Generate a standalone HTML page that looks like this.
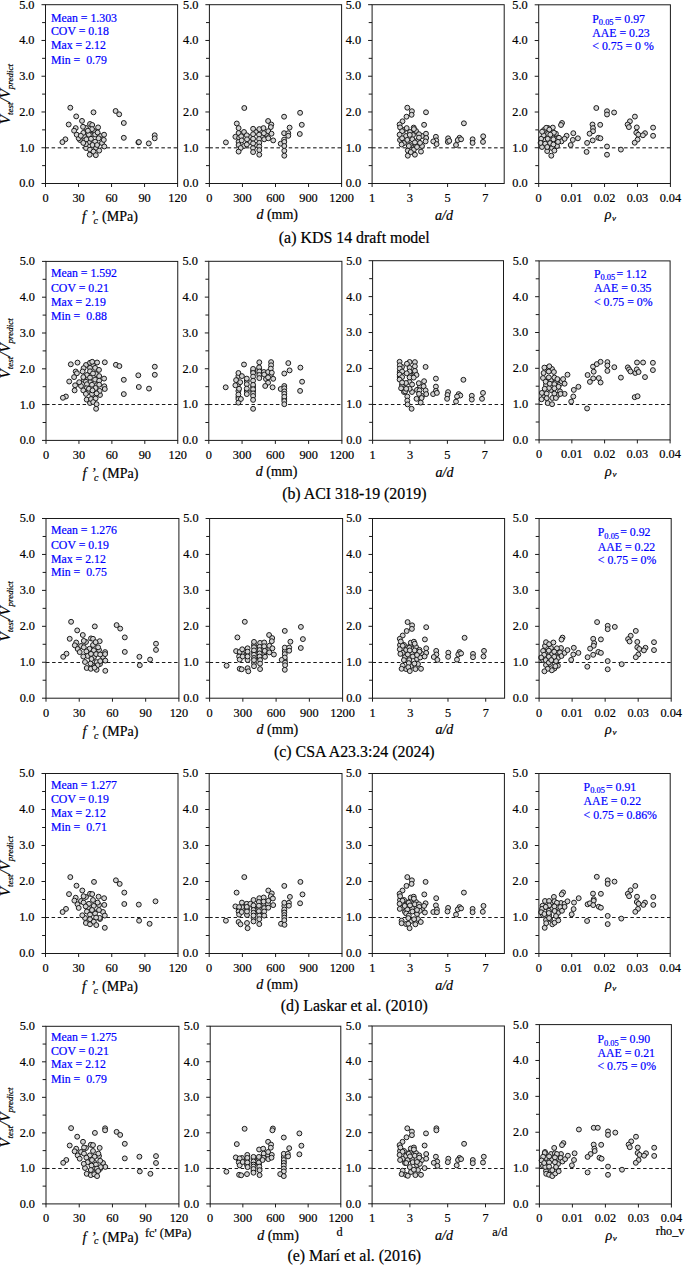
<!DOCTYPE html><html><head><meta charset="utf-8"><style>html,body{margin:0;padding:0;background:#fff;}svg{display:block;}text{font-family:"Liberation Serif",serif;stroke:currentColor;stroke-width:0.2px;}</style></head><body>
<svg width="685" height="1265" viewBox="0 0 685 1265">
<rect width="685" height="1265" fill="#fff"/>
<line x1="45.5" y1="147.74" x2="177.6" y2="147.74" stroke="#5a5a5a" stroke-width="1.4" stroke-dasharray="3.5,2.6"/>
<g fill="#d4d4d4" stroke="#1a1a1a" stroke-width="1.0"><circle cx="86.0" cy="128.0" r="2.45"/><circle cx="94.0" cy="131.0" r="2.45"/><circle cx="100.0" cy="136.0" r="2.45"/><circle cx="89.0" cy="142.0" r="2.45"/><circle cx="96.0" cy="148.0" r="2.45"/><circle cx="86.0" cy="148.0" r="2.45"/><circle cx="80.0" cy="140.0" r="2.45"/><circle cx="102.0" cy="143.0" r="2.45"/><circle cx="91.0" cy="135.0" r="2.45"/><circle cx="84.0" cy="136.0" r="2.45"/><circle cx="70.3" cy="107.7" r="2.45"/><circle cx="93.5" cy="112.3" r="2.45"/><circle cx="76.2" cy="116.4" r="2.45"/><circle cx="82.0" cy="120.9" r="2.45"/><circle cx="68.7" cy="124.5" r="2.45"/><circle cx="90.0" cy="124.0" r="2.45"/><circle cx="92.2" cy="125.0" r="2.45"/><circle cx="83.0" cy="126.8" r="2.45"/><circle cx="98.1" cy="127.4" r="2.45"/><circle cx="75.7" cy="128.1" r="2.45"/><circle cx="74.1" cy="130.7" r="2.45"/><circle cx="92.0" cy="129.1" r="2.45"/><circle cx="83.3" cy="132.9" r="2.45"/><circle cx="88.9" cy="134.7" r="2.45"/><circle cx="95.1" cy="134.5" r="2.45"/><circle cx="97.6" cy="132.5" r="2.45"/><circle cx="104.1" cy="134.7" r="2.45"/><circle cx="78.7" cy="138.3" r="2.45"/><circle cx="76.7" cy="134.7" r="2.45"/><circle cx="86.4" cy="139.3" r="2.45"/><circle cx="91.0" cy="138.8" r="2.45"/><circle cx="98.6" cy="138.3" r="2.45"/><circle cx="103.8" cy="139.9" r="2.45"/><circle cx="95.1" cy="141.7" r="2.45"/><circle cx="85.9" cy="144.1" r="2.45"/><circle cx="92.5" cy="145.0" r="2.45"/><circle cx="83.3" cy="142.9" r="2.45"/><circle cx="97.1" cy="145.0" r="2.45"/><circle cx="104.3" cy="146.5" r="2.45"/><circle cx="65.4" cy="139.3" r="2.45"/><circle cx="62.4" cy="142.1" r="2.45"/><circle cx="90.0" cy="149.6" r="2.45"/><circle cx="93.5" cy="151.6" r="2.45"/><circle cx="99.2" cy="150.6" r="2.45"/><circle cx="89.7" cy="154.7" r="2.45"/><circle cx="95.8" cy="155.2" r="2.45"/><circle cx="80.8" cy="135.8" r="2.45"/><circle cx="87.9" cy="130.7" r="2.45"/><circle cx="115.6" cy="111.0" r="2.45"/><circle cx="119.2" cy="114.3" r="2.45"/><circle cx="123.8" cy="123.0" r="2.45"/><circle cx="123.8" cy="137.8" r="2.45"/><circle cx="138.4" cy="142.4" r="2.45"/><circle cx="138.9" cy="142.1" r="2.45"/><circle cx="148.8" cy="143.4" r="2.45"/><circle cx="154.7" cy="135.3" r="2.45"/><circle cx="154.7" cy="138.3" r="2.45"/></g>
<rect x="45.5" y="4.7" width="132.10" height="178.80" fill="none" stroke="#1a1a1a" stroke-width="1"/>
<path d="M41.50 183.50H45.5M42.10 165.62H45.5M41.50 147.74H45.5M42.10 129.86H45.5M41.50 111.98H45.5M42.10 94.10H45.5M41.50 76.22H45.5M42.10 58.34H45.5M41.50 40.46H45.5M42.10 22.58H45.5M41.50 4.70H45.5M45.50 183.5V187.00M78.53 183.5V187.00M111.55 183.5V187.00M144.57 183.5V187.00M177.60 183.5V187.00" stroke="#1a1a1a" stroke-width="1" fill="none"/>
<text x="34.50" y="187.40" font-size="12.3" text-anchor="end">0.0</text>
<text x="34.50" y="151.64" font-size="12.3" text-anchor="end">1.0</text>
<text x="34.50" y="115.88" font-size="12.3" text-anchor="end">2.0</text>
<text x="34.50" y="80.12" font-size="12.3" text-anchor="end">3.0</text>
<text x="34.50" y="44.36" font-size="12.3" text-anchor="end">4.0</text>
<text x="34.50" y="8.60" font-size="12.3" text-anchor="end">5.0</text>
<text x="45.50" y="201.90" font-size="12.3" text-anchor="middle">0</text>
<text x="78.53" y="201.90" font-size="12.3" text-anchor="middle">30</text>
<text x="111.55" y="201.90" font-size="12.3" text-anchor="middle">60</text>
<text x="144.57" y="201.90" font-size="12.3" text-anchor="middle">90</text>
<text x="177.60" y="201.90" font-size="12.3" text-anchor="middle">120</text>
<line x1="209.4" y1="147.74" x2="341.6" y2="147.74" stroke="#5a5a5a" stroke-width="1.4" stroke-dasharray="3.5,2.6"/>
<g fill="#d4d4d4" stroke="#1a1a1a" stroke-width="1.0"><circle cx="244.0" cy="132.0" r="2.45"/><circle cx="250.0" cy="137.0" r="2.45"/><circle cx="256.0" cy="132.0" r="2.45"/><circle cx="262.0" cy="136.0" r="2.45"/><circle cx="250.0" cy="142.0" r="2.45"/><circle cx="244.0" cy="146.0" r="2.45"/><circle cx="256.0" cy="145.0" r="2.45"/><circle cx="266.0" cy="134.0" r="2.45"/><circle cx="253.0" cy="148.0" r="2.45"/><circle cx="238.6" cy="133.0" r="2.45"/><circle cx="244.3" cy="108.0" r="2.45"/><circle cx="236.8" cy="123.5" r="2.45"/><circle cx="238.6" cy="128.1" r="2.45"/><circle cx="225.9" cy="142.4" r="2.45"/><circle cx="235.4" cy="136.8" r="2.45"/><circle cx="239.1" cy="137.8" r="2.45"/><circle cx="241.2" cy="136.3" r="2.45"/><circle cx="238.6" cy="141.9" r="2.45"/><circle cx="238.6" cy="145.0" r="2.45"/><circle cx="240.7" cy="148.0" r="2.45"/><circle cx="238.6" cy="151.6" r="2.45"/><circle cx="246.8" cy="135.3" r="2.45"/><circle cx="247.0" cy="139.3" r="2.45"/><circle cx="246.8" cy="144.5" r="2.45"/><circle cx="253.1" cy="128.8" r="2.45"/><circle cx="253.1" cy="134.2" r="2.45"/><circle cx="253.1" cy="138.8" r="2.45"/><circle cx="253.1" cy="143.4" r="2.45"/><circle cx="253.1" cy="152.1" r="2.45"/><circle cx="259.3" cy="129.1" r="2.45"/><circle cx="259.1" cy="134.7" r="2.45"/><circle cx="259.1" cy="139.0" r="2.45"/><circle cx="259.3" cy="142.9" r="2.45"/><circle cx="259.3" cy="146.5" r="2.45"/><circle cx="259.3" cy="150.1" r="2.45"/><circle cx="259.3" cy="154.7" r="2.45"/><circle cx="263.5" cy="128.1" r="2.45"/><circle cx="263.9" cy="133.2" r="2.45"/><circle cx="264.2" cy="139.3" r="2.45"/><circle cx="268.1" cy="121.0" r="2.45"/><circle cx="271.3" cy="124.5" r="2.45"/><circle cx="270.8" cy="127.1" r="2.45"/><circle cx="268.3" cy="131.2" r="2.45"/><circle cx="271.5" cy="133.7" r="2.45"/><circle cx="268.3" cy="138.3" r="2.45"/><circle cx="273.2" cy="140.4" r="2.45"/><circle cx="241.7" cy="140.4" r="2.45"/><circle cx="284.1" cy="116.7" r="2.45"/><circle cx="300.1" cy="112.8" r="2.45"/><circle cx="289.6" cy="127.6" r="2.45"/><circle cx="301.8" cy="124.8" r="2.45"/><circle cx="284.1" cy="133.2" r="2.45"/><circle cx="288.3" cy="133.2" r="2.45"/><circle cx="288.3" cy="135.8" r="2.45"/><circle cx="299.8" cy="134.0" r="2.45"/><circle cx="284.1" cy="139.6" r="2.45"/><circle cx="280.7" cy="143.7" r="2.45"/><circle cx="284.3" cy="141.9" r="2.45"/><circle cx="284.3" cy="146.0" r="2.45"/><circle cx="284.3" cy="150.8" r="2.45"/><circle cx="284.3" cy="155.7" r="2.45"/></g>
<rect x="209.4" y="4.7" width="132.20" height="178.80" fill="none" stroke="#1a1a1a" stroke-width="1"/>
<path d="M205.40 183.50H209.4M206.00 165.62H209.4M205.40 147.74H209.4M206.00 129.86H209.4M205.40 111.98H209.4M206.00 94.10H209.4M205.40 76.22H209.4M206.00 58.34H209.4M205.40 40.46H209.4M206.00 22.58H209.4M205.40 4.70H209.4M209.40 183.5V187.00M242.45 183.5V187.00M275.50 183.5V187.00M308.55 183.5V187.00M341.60 183.5V187.00" stroke="#1a1a1a" stroke-width="1" fill="none"/>
<text x="198.40" y="187.40" font-size="12.3" text-anchor="end">0.0</text>
<text x="198.40" y="151.64" font-size="12.3" text-anchor="end">1.0</text>
<text x="198.40" y="115.88" font-size="12.3" text-anchor="end">2.0</text>
<text x="198.40" y="80.12" font-size="12.3" text-anchor="end">3.0</text>
<text x="198.40" y="44.36" font-size="12.3" text-anchor="end">4.0</text>
<text x="198.40" y="8.60" font-size="12.3" text-anchor="end">5.0</text>
<text x="209.40" y="201.90" font-size="12.3" text-anchor="middle">0</text>
<text x="242.45" y="201.90" font-size="12.3" text-anchor="middle">300</text>
<text x="275.50" y="201.90" font-size="12.3" text-anchor="middle">600</text>
<text x="308.55" y="201.90" font-size="12.3" text-anchor="middle">900</text>
<text x="341.60" y="201.90" font-size="12.3" text-anchor="middle">1200</text>
<line x1="372.1" y1="147.74" x2="504.2" y2="147.74" stroke="#5a5a5a" stroke-width="1.4" stroke-dasharray="3.5,2.6"/>
<g fill="#d4d4d4" stroke="#1a1a1a" stroke-width="1.0"><circle cx="404.0" cy="130.0" r="2.45"/><circle cx="406.0" cy="136.0" r="2.45"/><circle cx="410.0" cy="132.0" r="2.45"/><circle cx="416.0" cy="131.0" r="2.45"/><circle cx="418.0" cy="140.0" r="2.45"/><circle cx="422.0" cy="136.0" r="2.45"/><circle cx="404.0" cy="143.0" r="2.45"/><circle cx="410.0" cy="145.0" r="2.45"/><circle cx="416.0" cy="146.0" r="2.45"/><circle cx="422.0" cy="146.0" r="2.45"/><circle cx="413.0" cy="135.0" r="2.45"/><circle cx="400.0" cy="140.0" r="2.45"/><circle cx="407.3" cy="107.7" r="2.45"/><circle cx="411.9" cy="111.2" r="2.45"/><circle cx="411.6" cy="114.8" r="2.45"/><circle cx="406.5" cy="116.7" r="2.45"/><circle cx="402.5" cy="121.3" r="2.45"/><circle cx="399.6" cy="124.5" r="2.45"/><circle cx="400.1" cy="127.4" r="2.45"/><circle cx="402.1" cy="131.2" r="2.45"/><circle cx="399.6" cy="134.7" r="2.45"/><circle cx="402.1" cy="138.3" r="2.45"/><circle cx="401.6" cy="144.5" r="2.45"/><circle cx="406.7" cy="128.1" r="2.45"/><circle cx="413.7" cy="127.6" r="2.45"/><circle cx="413.9" cy="129.1" r="2.45"/><circle cx="409.8" cy="134.9" r="2.45"/><circle cx="407.3" cy="139.9" r="2.45"/><circle cx="412.4" cy="139.3" r="2.45"/><circle cx="419.0" cy="134.2" r="2.45"/><circle cx="419.0" cy="137.6" r="2.45"/><circle cx="426.0" cy="133.7" r="2.45"/><circle cx="426.2" cy="138.0" r="2.45"/><circle cx="425.6" cy="141.4" r="2.45"/><circle cx="420.0" cy="142.9" r="2.45"/><circle cx="414.9" cy="142.4" r="2.45"/><circle cx="408.8" cy="146.0" r="2.45"/><circle cx="413.9" cy="149.6" r="2.45"/><circle cx="407.8" cy="150.6" r="2.45"/><circle cx="421.0" cy="151.6" r="2.45"/><circle cx="414.9" cy="154.7" r="2.45"/><circle cx="407.8" cy="155.7" r="2.45"/><circle cx="426.0" cy="112.3" r="2.45"/><circle cx="424.1" cy="124.8" r="2.45"/><circle cx="435.9" cy="136.8" r="2.45"/><circle cx="436.2" cy="140.4" r="2.45"/><circle cx="433.3" cy="141.4" r="2.45"/><circle cx="436.6" cy="144.1" r="2.45"/><circle cx="417.0" cy="147.0" r="2.45"/><circle cx="410.8" cy="152.1" r="2.45"/><circle cx="463.9" cy="123.3" r="2.45"/><circle cx="448.1" cy="138.3" r="2.45"/><circle cx="447.8" cy="141.9" r="2.45"/><circle cx="459.5" cy="137.8" r="2.45"/><circle cx="457.7" cy="140.1" r="2.45"/><circle cx="461.1" cy="139.3" r="2.45"/><circle cx="456.0" cy="145.0" r="2.45"/><circle cx="472.6" cy="139.3" r="2.45"/><circle cx="472.6" cy="142.9" r="2.45"/><circle cx="483.2" cy="136.3" r="2.45"/><circle cx="483.0" cy="141.9" r="2.45"/><circle cx="449.3" cy="140.9" r="2.45"/></g>
<rect x="372.1" y="4.7" width="132.10" height="178.80" fill="none" stroke="#1a1a1a" stroke-width="1"/>
<path d="M368.10 183.50H372.1M368.70 165.62H372.1M368.10 147.74H372.1M368.70 129.86H372.1M368.10 111.98H372.1M368.70 94.10H372.1M368.10 76.22H372.1M368.70 58.34H372.1M368.10 40.46H372.1M368.70 22.58H372.1M368.10 4.70H372.1M372.10 183.5V187.00M409.84 183.5V187.00M447.59 183.5V187.00M485.33 183.5V187.00" stroke="#1a1a1a" stroke-width="1" fill="none"/>
<text x="361.10" y="187.40" font-size="12.3" text-anchor="end">0.0</text>
<text x="361.10" y="151.64" font-size="12.3" text-anchor="end">1.0</text>
<text x="361.10" y="115.88" font-size="12.3" text-anchor="end">2.0</text>
<text x="361.10" y="80.12" font-size="12.3" text-anchor="end">3.0</text>
<text x="361.10" y="44.36" font-size="12.3" text-anchor="end">4.0</text>
<text x="361.10" y="8.60" font-size="12.3" text-anchor="end">5.0</text>
<text x="372.10" y="201.90" font-size="12.3" text-anchor="middle">1</text>
<text x="409.84" y="201.90" font-size="12.3" text-anchor="middle">3</text>
<text x="447.59" y="201.90" font-size="12.3" text-anchor="middle">5</text>
<text x="485.33" y="201.90" font-size="12.3" text-anchor="middle">7</text>
<line x1="538.7" y1="147.76" x2="670.4" y2="147.76" stroke="#5a5a5a" stroke-width="1.4" stroke-dasharray="3.5,2.6"/>
<g fill="#d4d4d4" stroke="#1a1a1a" stroke-width="1.0"><circle cx="544.0" cy="130.0" r="2.45"/><circle cx="548.0" cy="134.0" r="2.45"/><circle cx="552.0" cy="136.0" r="2.45"/><circle cx="556.0" cy="139.0" r="2.45"/><circle cx="545.0" cy="140.0" r="2.45"/><circle cx="550.0" cy="143.0" r="2.45"/><circle cx="557.0" cy="146.0" r="2.45"/><circle cx="542.0" cy="147.0" r="2.45"/><circle cx="552.0" cy="148.0" r="2.45"/><circle cx="548.0" cy="128.0" r="2.45"/><circle cx="546.2" cy="127.8" r="2.45"/><circle cx="552.8" cy="127.6" r="2.45"/><circle cx="549.3" cy="129.6" r="2.45"/><circle cx="543.6" cy="135.3" r="2.45"/><circle cx="547.7" cy="138.8" r="2.45"/><circle cx="553.4" cy="139.3" r="2.45"/><circle cx="555.9" cy="133.7" r="2.45"/><circle cx="553.9" cy="132.7" r="2.45"/><circle cx="541.1" cy="138.8" r="2.45"/><circle cx="540.6" cy="142.9" r="2.45"/><circle cx="545.2" cy="143.7" r="2.45"/><circle cx="553.4" cy="144.5" r="2.45"/><circle cx="559.0" cy="137.8" r="2.45"/><circle cx="561.5" cy="141.4" r="2.45"/><circle cx="558.0" cy="141.9" r="2.45"/><circle cx="547.2" cy="151.1" r="2.45"/><circle cx="554.4" cy="150.6" r="2.45"/><circle cx="551.3" cy="155.7" r="2.45"/><circle cx="547.2" cy="147.0" r="2.45"/><circle cx="542.1" cy="131.7" r="2.45"/><circle cx="550.3" cy="134.7" r="2.45"/><circle cx="562.0" cy="123.0" r="2.45"/><circle cx="561.0" cy="125.0" r="2.45"/><circle cx="566.6" cy="135.8" r="2.45"/><circle cx="564.6" cy="138.8" r="2.45"/><circle cx="573.3" cy="133.2" r="2.45"/><circle cx="572.8" cy="139.9" r="2.45"/><circle cx="577.9" cy="138.3" r="2.45"/><circle cx="570.7" cy="145.0" r="2.45"/><circle cx="596.3" cy="108.0" r="2.45"/><circle cx="592.5" cy="124.5" r="2.45"/><circle cx="600.2" cy="124.8" r="2.45"/><circle cx="593.0" cy="128.1" r="2.45"/><circle cx="593.0" cy="131.2" r="2.45"/><circle cx="589.6" cy="133.7" r="2.45"/><circle cx="592.7" cy="140.4" r="2.45"/><circle cx="598.3" cy="137.8" r="2.45"/><circle cx="600.4" cy="138.3" r="2.45"/><circle cx="587.1" cy="142.9" r="2.45"/><circle cx="586.6" cy="151.9" r="2.45"/><circle cx="607.0" cy="111.2" r="2.45"/><circle cx="607.0" cy="114.5" r="2.45"/><circle cx="614.1" cy="112.5" r="2.45"/><circle cx="607.0" cy="146.5" r="2.45"/><circle cx="607.0" cy="154.7" r="2.45"/><circle cx="620.9" cy="149.6" r="2.45"/><circle cx="634.9" cy="116.6" r="2.45"/><circle cx="629.9" cy="121.3" r="2.45"/><circle cx="627.6" cy="124.5" r="2.45"/><circle cx="628.9" cy="127.1" r="2.45"/><circle cx="636.8" cy="127.4" r="2.45"/><circle cx="636.3" cy="132.7" r="2.45"/><circle cx="638.3" cy="134.7" r="2.45"/><circle cx="645.0" cy="133.2" r="2.45"/><circle cx="642.9" cy="135.3" r="2.45"/><circle cx="637.6" cy="139.6" r="2.45"/><circle cx="634.7" cy="142.7" r="2.45"/><circle cx="653.1" cy="127.6" r="2.45"/><circle cx="653.1" cy="135.8" r="2.45"/></g>
<rect x="538.7" y="4.8" width="131.70" height="178.70" fill="none" stroke="#1a1a1a" stroke-width="1"/>
<path d="M534.70 183.50H538.7M535.30 165.63H538.7M534.70 147.76H538.7M535.30 129.89H538.7M534.70 112.02H538.7M535.30 94.15H538.7M534.70 76.28H538.7M535.30 58.41H538.7M534.70 40.54H538.7M535.30 22.67H538.7M534.70 4.80H538.7M538.70 183.5V187.00M571.62 183.5V187.00M604.55 183.5V187.00M637.48 183.5V187.00M670.40 183.5V187.00" stroke="#1a1a1a" stroke-width="1" fill="none"/>
<text x="527.70" y="187.40" font-size="12.3" text-anchor="end">0.0</text>
<text x="527.70" y="151.66" font-size="12.3" text-anchor="end">1.0</text>
<text x="527.70" y="115.92" font-size="12.3" text-anchor="end">2.0</text>
<text x="527.70" y="80.18" font-size="12.3" text-anchor="end">3.0</text>
<text x="527.70" y="44.44" font-size="12.3" text-anchor="end">4.0</text>
<text x="527.70" y="8.70" font-size="12.3" text-anchor="end">5.0</text>
<text x="538.70" y="201.90" font-size="12.3" text-anchor="middle">0</text>
<text x="571.62" y="201.90" font-size="12.3" text-anchor="middle">0.01</text>
<text x="604.55" y="201.90" font-size="12.3" text-anchor="middle">0.02</text>
<text x="637.48" y="201.90" font-size="12.3" text-anchor="middle">0.03</text>
<text x="670.40" y="201.90" font-size="12.3" text-anchor="middle">0.04</text>
<text x="82.10" y="221.30" font-size="14" ><tspan font-style="italic">f</tspan><tspan font-style="italic" dx="3.3">’</tspan><tspan font-style="italic" font-size="10" dx="-1.8" dy="2.7">c</tspan><tspan dy="-2.7" dx="0.7"> (MPa)</tspan></text>
<text x="256.40" y="219.30" font-size="14"><tspan font-style="italic">d</tspan> (mm)</text>
<text x="435.00" y="219.70" font-size="14" font-style="italic">a/d</text>
<text x="604.70" y="219.10" font-size="14" font-style="italic">ρ<tspan font-size="9" dy="1.6" dx="0.6">v</tspan></text>
<text x="354.3" y="243.40" font-size="15.9" text-anchor="middle">(a) KDS 14 draft model</text>
<text transform="translate(10,94.1) rotate(-90)" font-size="15" text-anchor="middle" font-style="italic">V<tspan font-size="9" dy="2.6">test</tspan><tspan dy="-2.6">/V</tspan><tspan font-size="9" dy="2.6">predict</tspan></text>
<g fill="#0000ff" style="color:#0000ff" font-size="11.8">
<text x="51.0" y="21.60">Mean = 1.303</text>
<text x="51.0" y="35.30">COV = 0.18</text>
<text x="51.0" y="49.00">Max = 2.12</text>
<text x="51.0" y="63.60" xml:space="preserve">Min =  0.79</text>
<text x="592.30" y="22.50">P<tspan font-size="8.4" dy="2.6">0.05</tspan><tspan dy="-2.6" dx="1.2">= 0.97</tspan></text>
<text x="592.30" y="36.50">AAE = 0.23</text>
<text x="592.30" y="50.00">&lt; 0.75 = 0 %</text>
</g>
<line x1="46.0" y1="404.50" x2="177.75" y2="404.50" stroke="#1a1a1a" stroke-width="1.0" stroke-dasharray="3.5,2.6"/>
<g fill="#d4d4d4" stroke="#1a1a1a" stroke-width="1.0"><circle cx="86.0" cy="365.0" r="2.45"/><circle cx="93.0" cy="365.0" r="2.45"/><circle cx="87.0" cy="375.0" r="2.45"/><circle cx="96.0" cy="374.0" r="2.45"/><circle cx="84.0" cy="380.0" r="2.45"/><circle cx="90.0" cy="382.0" r="2.45"/><circle cx="97.0" cy="385.0" r="2.45"/><circle cx="88.0" cy="392.0" r="2.45"/><circle cx="94.0" cy="396.0" r="2.45"/><circle cx="90.0" cy="403.0" r="2.45"/><circle cx="81.0" cy="386.0" r="2.45"/><circle cx="100.0" cy="395.0" r="2.45"/><circle cx="70.8" cy="364.3" r="2.45"/><circle cx="77.5" cy="362.6" r="2.45"/><circle cx="90.0" cy="362.8" r="2.45"/><circle cx="92.2" cy="361.8" r="2.45"/><circle cx="97.1" cy="362.5" r="2.45"/><circle cx="104.8" cy="362.3" r="2.45"/><circle cx="83.6" cy="368.2" r="2.45"/><circle cx="82.6" cy="371.5" r="2.45"/><circle cx="75.7" cy="371.5" r="2.45"/><circle cx="76.9" cy="373.3" r="2.45"/><circle cx="90.0" cy="367.9" r="2.45"/><circle cx="90.0" cy="371.3" r="2.45"/><circle cx="95.1" cy="367.9" r="2.45"/><circle cx="99.0" cy="369.9" r="2.45"/><circle cx="74.1" cy="377.1" r="2.45"/><circle cx="83.3" cy="377.1" r="2.45"/><circle cx="90.0" cy="377.6" r="2.45"/><circle cx="93.0" cy="373.5" r="2.45"/><circle cx="99.2" cy="376.1" r="2.45"/><circle cx="104.1" cy="378.6" r="2.45"/><circle cx="69.2" cy="381.5" r="2.45"/><circle cx="79.2" cy="382.2" r="2.45"/><circle cx="75.1" cy="385.3" r="2.45"/><circle cx="85.9" cy="381.7" r="2.45"/><circle cx="86.9" cy="384.2" r="2.45"/><circle cx="95.1" cy="379.6" r="2.45"/><circle cx="99.2" cy="380.7" r="2.45"/><circle cx="99.2" cy="384.7" r="2.45"/><circle cx="92.0" cy="384.7" r="2.45"/><circle cx="74.6" cy="390.4" r="2.45"/><circle cx="86.4" cy="388.3" r="2.45"/><circle cx="83.3" cy="390.4" r="2.45"/><circle cx="95.6" cy="388.0" r="2.45"/><circle cx="104.3" cy="386.3" r="2.45"/><circle cx="104.8" cy="389.0" r="2.45"/><circle cx="99.7" cy="390.9" r="2.45"/><circle cx="85.9" cy="393.9" r="2.45"/><circle cx="92.0" cy="393.9" r="2.45"/><circle cx="96.6" cy="393.4" r="2.45"/><circle cx="65.9" cy="396.5" r="2.45"/><circle cx="62.9" cy="397.8" r="2.45"/><circle cx="86.7" cy="399.6" r="2.45"/><circle cx="91.0" cy="399.0" r="2.45"/><circle cx="95.6" cy="398.5" r="2.45"/><circle cx="93.2" cy="402.1" r="2.45"/><circle cx="96.6" cy="404.2" r="2.45"/><circle cx="96.1" cy="408.8" r="2.45"/><circle cx="88.9" cy="388.8" r="2.45"/><circle cx="92.5" cy="390.4" r="2.45"/><circle cx="115.9" cy="364.8" r="2.45"/><circle cx="119.4" cy="366.1" r="2.45"/><circle cx="123.8" cy="379.8" r="2.45"/><circle cx="123.8" cy="394.1" r="2.45"/><circle cx="138.3" cy="375.3" r="2.45"/><circle cx="138.8" cy="387.0" r="2.45"/><circle cx="149.0" cy="388.6" r="2.45"/><circle cx="154.8" cy="366.7" r="2.45"/><circle cx="154.8" cy="374.8" r="2.45"/></g>
<rect x="46.0" y="261.4" width="131.75" height="179.00" fill="none" stroke="#1a1a1a" stroke-width="1"/>
<path d="M42.00 440.40H46.0M42.60 422.50H46.0M42.00 404.60H46.0M42.60 386.70H46.0M42.00 368.80H46.0M42.60 350.90H46.0M42.00 333.00H46.0M42.60 315.10H46.0M42.00 297.20H46.0M42.60 279.30H46.0M42.00 261.40H46.0M46.00 440.4V443.90M78.94 440.4V443.90M111.88 440.4V443.90M144.81 440.4V443.90M177.75 440.4V443.90" stroke="#1a1a1a" stroke-width="1" fill="none"/>
<text x="35.00" y="444.30" font-size="12.3" text-anchor="end">0.0</text>
<text x="35.00" y="408.50" font-size="12.3" text-anchor="end">1.0</text>
<text x="35.00" y="372.70" font-size="12.3" text-anchor="end">2.0</text>
<text x="35.00" y="336.90" font-size="12.3" text-anchor="end">3.0</text>
<text x="35.00" y="301.10" font-size="12.3" text-anchor="end">4.0</text>
<text x="35.00" y="265.30" font-size="12.3" text-anchor="end">5.0</text>
<text x="46.00" y="458.80" font-size="12.3" text-anchor="middle">0</text>
<text x="78.94" y="458.80" font-size="12.3" text-anchor="middle">30</text>
<text x="111.88" y="458.80" font-size="12.3" text-anchor="middle">60</text>
<text x="144.81" y="458.80" font-size="12.3" text-anchor="middle">90</text>
<text x="177.75" y="458.80" font-size="12.3" text-anchor="middle">120</text>
<line x1="208.8" y1="404.50" x2="341.9" y2="404.50" stroke="#1a1a1a" stroke-width="1.0" stroke-dasharray="3.5,2.6"/>
<g fill="#d4d4d4" stroke="#1a1a1a" stroke-width="1.0"><circle cx="238.4" cy="376.0" r="2.45"/><circle cx="238.4" cy="384.0" r="2.45"/><circle cx="238.4" cy="391.0" r="2.45"/><circle cx="238.4" cy="397.0" r="2.45"/><circle cx="246.8" cy="381.0" r="2.45"/><circle cx="246.8" cy="391.0" r="2.45"/><circle cx="253.1" cy="371.0" r="2.45"/><circle cx="253.1" cy="387.0" r="2.45"/><circle cx="253.1" cy="391.0" r="2.45"/><circle cx="259.3" cy="369.0" r="2.45"/><circle cx="259.3" cy="373.0" r="2.45"/><circle cx="284.3" cy="399.0" r="2.45"/><circle cx="284.3" cy="386.0" r="2.45"/><circle cx="270.8" cy="375.0" r="2.45"/><circle cx="266.0" cy="379.0" r="2.45"/><circle cx="244.0" cy="364.5" r="2.45"/><circle cx="225.7" cy="387.3" r="2.45"/><circle cx="238.4" cy="373.0" r="2.45"/><circle cx="241.9" cy="376.1" r="2.45"/><circle cx="236.1" cy="380.1" r="2.45"/><circle cx="240.2" cy="382.2" r="2.45"/><circle cx="235.4" cy="385.3" r="2.45"/><circle cx="239.1" cy="388.8" r="2.45"/><circle cx="238.4" cy="394.5" r="2.45"/><circle cx="238.4" cy="399.0" r="2.45"/><circle cx="238.4" cy="402.6" r="2.45"/><circle cx="240.9" cy="399.0" r="2.45"/><circle cx="246.8" cy="378.6" r="2.45"/><circle cx="246.8" cy="384.2" r="2.45"/><circle cx="246.8" cy="388.6" r="2.45"/><circle cx="246.8" cy="394.1" r="2.45"/><circle cx="253.1" cy="368.9" r="2.45"/><circle cx="253.1" cy="373.0" r="2.45"/><circle cx="253.1" cy="376.6" r="2.45"/><circle cx="253.1" cy="380.7" r="2.45"/><circle cx="253.1" cy="384.9" r="2.45"/><circle cx="253.1" cy="389.3" r="2.45"/><circle cx="253.1" cy="393.4" r="2.45"/><circle cx="253.1" cy="396.0" r="2.45"/><circle cx="253.1" cy="399.9" r="2.45"/><circle cx="253.1" cy="408.8" r="2.45"/><circle cx="259.3" cy="362.3" r="2.45"/><circle cx="259.1" cy="367.4" r="2.45"/><circle cx="259.3" cy="371.5" r="2.45"/><circle cx="259.3" cy="375.0" r="2.45"/><circle cx="259.3" cy="378.1" r="2.45"/><circle cx="263.9" cy="372.0" r="2.45"/><circle cx="264.2" cy="374.5" r="2.45"/><circle cx="268.1" cy="372.0" r="2.45"/><circle cx="271.1" cy="362.1" r="2.45"/><circle cx="271.1" cy="365.3" r="2.45"/><circle cx="270.8" cy="368.6" r="2.45"/><circle cx="271.8" cy="372.7" r="2.45"/><circle cx="268.1" cy="377.4" r="2.45"/><circle cx="273.2" cy="378.8" r="2.45"/><circle cx="268.1" cy="382.7" r="2.45"/><circle cx="265.2" cy="386.0" r="2.45"/><circle cx="272.6" cy="387.3" r="2.45"/><circle cx="288.3" cy="363.1" r="2.45"/><circle cx="289.6" cy="370.4" r="2.45"/><circle cx="284.3" cy="373.5" r="2.45"/><circle cx="300.4" cy="367.6" r="2.45"/><circle cx="302.1" cy="381.7" r="2.45"/><circle cx="300.1" cy="390.9" r="2.45"/><circle cx="280.7" cy="389.0" r="2.45"/><circle cx="284.3" cy="388.3" r="2.45"/><circle cx="284.3" cy="391.4" r="2.45"/><circle cx="284.3" cy="393.9" r="2.45"/><circle cx="284.3" cy="396.8" r="2.45"/><circle cx="284.3" cy="401.1" r="2.45"/><circle cx="284.3" cy="404.2" r="2.45"/></g>
<rect x="208.8" y="261.3" width="133.10" height="179.10" fill="none" stroke="#1a1a1a" stroke-width="1"/>
<path d="M204.80 440.40H208.8M205.40 422.49H208.8M204.80 404.58H208.8M205.40 386.67H208.8M204.80 368.76H208.8M205.40 350.85H208.8M204.80 332.94H208.8M205.40 315.03H208.8M204.80 297.12H208.8M205.40 279.21H208.8M204.80 261.30H208.8M208.80 440.4V443.90M242.07 440.4V443.90M275.35 440.4V443.90M308.62 440.4V443.90M341.90 440.4V443.90" stroke="#1a1a1a" stroke-width="1" fill="none"/>
<text x="197.80" y="444.30" font-size="12.3" text-anchor="end">0.0</text>
<text x="197.80" y="408.48" font-size="12.3" text-anchor="end">1.0</text>
<text x="197.80" y="372.66" font-size="12.3" text-anchor="end">2.0</text>
<text x="197.80" y="336.84" font-size="12.3" text-anchor="end">3.0</text>
<text x="197.80" y="301.02" font-size="12.3" text-anchor="end">4.0</text>
<text x="197.80" y="265.20" font-size="12.3" text-anchor="end">5.0</text>
<text x="208.80" y="458.80" font-size="12.3" text-anchor="middle">0</text>
<text x="242.07" y="458.80" font-size="12.3" text-anchor="middle">300</text>
<text x="275.35" y="458.80" font-size="12.3" text-anchor="middle">600</text>
<text x="308.62" y="458.80" font-size="12.3" text-anchor="middle">900</text>
<text x="341.90" y="458.80" font-size="12.3" text-anchor="middle">1200</text>
<line x1="372.6" y1="404.50" x2="503.5" y2="404.50" stroke="#1a1a1a" stroke-width="1.0" stroke-dasharray="3.5,2.6"/>
<g fill="#d4d4d4" stroke="#1a1a1a" stroke-width="1.0"><circle cx="399.7" cy="372.0" r="2.45"/><circle cx="399.7" cy="377.0" r="2.45"/><circle cx="402.0" cy="367.0" r="2.45"/><circle cx="402.0" cy="385.0" r="2.45"/><circle cx="409.6" cy="362.0" r="2.45"/><circle cx="409.6" cy="375.0" r="2.45"/><circle cx="409.6" cy="382.0" r="2.45"/><circle cx="414.9" cy="373.0" r="2.45"/><circle cx="404.0" cy="392.0" r="2.45"/><circle cx="406.0" cy="383.0" r="2.45"/><circle cx="412.0" cy="392.0" r="2.45"/><circle cx="420.0" cy="386.0" r="2.45"/><circle cx="422.0" cy="396.0" r="2.45"/><circle cx="399.6" cy="361.8" r="2.45"/><circle cx="399.8" cy="365.3" r="2.45"/><circle cx="399.8" cy="368.6" r="2.45"/><circle cx="402.1" cy="371.5" r="2.45"/><circle cx="399.6" cy="374.5" r="2.45"/><circle cx="402.1" cy="377.1" r="2.45"/><circle cx="399.6" cy="379.6" r="2.45"/><circle cx="402.1" cy="382.5" r="2.45"/><circle cx="401.1" cy="388.3" r="2.45"/><circle cx="406.9" cy="363.8" r="2.45"/><circle cx="409.6" cy="367.9" r="2.45"/><circle cx="409.6" cy="371.5" r="2.45"/><circle cx="406.7" cy="373.3" r="2.45"/><circle cx="409.6" cy="377.4" r="2.45"/><circle cx="414.9" cy="362.1" r="2.45"/><circle cx="414.9" cy="366.3" r="2.45"/><circle cx="414.9" cy="370.9" r="2.45"/><circle cx="416.5" cy="375.0" r="2.45"/><circle cx="413.7" cy="377.6" r="2.45"/><circle cx="412.1" cy="384.5" r="2.45"/><circle cx="409.6" cy="388.8" r="2.45"/><circle cx="407.3" cy="396.5" r="2.45"/><circle cx="407.3" cy="400.6" r="2.45"/><circle cx="407.6" cy="404.4" r="2.45"/><circle cx="411.6" cy="408.8" r="2.45"/><circle cx="425.6" cy="366.9" r="2.45"/><circle cx="418.8" cy="383.2" r="2.45"/><circle cx="424.1" cy="381.2" r="2.45"/><circle cx="423.6" cy="386.3" r="2.45"/><circle cx="417.0" cy="389.9" r="2.45"/><circle cx="419.5" cy="390.4" r="2.45"/><circle cx="425.6" cy="390.4" r="2.45"/><circle cx="419.0" cy="393.9" r="2.45"/><circle cx="426.2" cy="394.1" r="2.45"/><circle cx="416.5" cy="398.8" r="2.45"/><circle cx="421.6" cy="398.0" r="2.45"/><circle cx="420.7" cy="402.6" r="2.45"/><circle cx="435.9" cy="378.6" r="2.45"/><circle cx="435.9" cy="386.6" r="2.45"/><circle cx="435.9" cy="390.9" r="2.45"/><circle cx="433.1" cy="394.1" r="2.45"/><circle cx="436.9" cy="392.9" r="2.45"/><circle cx="405.2" cy="391.4" r="2.45"/><circle cx="406.2" cy="388.8" r="2.45"/><circle cx="463.4" cy="379.8" r="2.45"/><circle cx="448.1" cy="392.1" r="2.45"/><circle cx="447.5" cy="395.0" r="2.45"/><circle cx="447.1" cy="398.8" r="2.45"/><circle cx="458.7" cy="394.1" r="2.45"/><circle cx="460.3" cy="395.5" r="2.45"/><circle cx="457.0" cy="396.5" r="2.45"/><circle cx="456.0" cy="401.6" r="2.45"/><circle cx="471.8" cy="395.8" r="2.45"/><circle cx="471.8" cy="399.6" r="2.45"/><circle cx="483.0" cy="392.9" r="2.45"/><circle cx="482.0" cy="398.8" r="2.45"/></g>
<rect x="372.6" y="260.7" width="130.90" height="179.60" fill="none" stroke="#1a1a1a" stroke-width="1"/>
<path d="M368.60 440.30H372.6M369.20 422.34H372.6M368.60 404.38H372.6M369.20 386.42H372.6M368.60 368.46H372.6M369.20 350.50H372.6M368.60 332.54H372.6M369.20 314.58H372.6M368.60 296.62H372.6M369.20 278.66H372.6M368.60 260.70H372.6M372.60 440.3V443.80M410.00 440.3V443.80M447.40 440.3V443.80M484.80 440.3V443.80" stroke="#1a1a1a" stroke-width="1" fill="none"/>
<text x="361.60" y="444.20" font-size="12.3" text-anchor="end">0.0</text>
<text x="361.60" y="408.28" font-size="12.3" text-anchor="end">1.0</text>
<text x="361.60" y="372.36" font-size="12.3" text-anchor="end">2.0</text>
<text x="361.60" y="336.44" font-size="12.3" text-anchor="end">3.0</text>
<text x="361.60" y="300.52" font-size="12.3" text-anchor="end">4.0</text>
<text x="361.60" y="264.60" font-size="12.3" text-anchor="end">5.0</text>
<text x="372.60" y="458.70" font-size="12.3" text-anchor="middle">1</text>
<text x="410.00" y="458.70" font-size="12.3" text-anchor="middle">3</text>
<text x="447.40" y="458.70" font-size="12.3" text-anchor="middle">5</text>
<text x="484.80" y="458.70" font-size="12.3" text-anchor="middle">7</text>
<line x1="539.1" y1="404.50" x2="670.1" y2="404.50" stroke="#1a1a1a" stroke-width="1.0" stroke-dasharray="3.5,2.6"/>
<g fill="#d4d4d4" stroke="#1a1a1a" stroke-width="1.0"><circle cx="543.0" cy="378.0" r="2.45"/><circle cx="546.0" cy="385.0" r="2.45"/><circle cx="551.0" cy="380.0" r="2.45"/><circle cx="556.0" cy="382.0" r="2.45"/><circle cx="551.0" cy="390.0" r="2.45"/><circle cx="558.0" cy="395.0" r="2.45"/><circle cx="544.0" cy="397.0" r="2.45"/><circle cx="549.0" cy="388.0" r="2.45"/><circle cx="560.0" cy="384.0" r="2.45"/><circle cx="547.0" cy="368.0" r="2.45"/><circle cx="552.0" cy="369.0" r="2.45"/><circle cx="544.4" cy="367.6" r="2.45"/><circle cx="549.3" cy="366.3" r="2.45"/><circle cx="548.8" cy="371.5" r="2.45"/><circle cx="553.9" cy="372.0" r="2.45"/><circle cx="543.6" cy="373.0" r="2.45"/><circle cx="548.8" cy="377.4" r="2.45"/><circle cx="554.4" cy="377.6" r="2.45"/><circle cx="545.7" cy="381.7" r="2.45"/><circle cx="549.8" cy="383.7" r="2.45"/><circle cx="554.4" cy="384.2" r="2.45"/><circle cx="558.5" cy="386.8" r="2.45"/><circle cx="561.5" cy="381.2" r="2.45"/><circle cx="563.1" cy="379.1" r="2.45"/><circle cx="564.6" cy="383.7" r="2.45"/><circle cx="544.7" cy="388.8" r="2.45"/><circle cx="554.4" cy="388.3" r="2.45"/><circle cx="560.0" cy="391.4" r="2.45"/><circle cx="564.6" cy="393.9" r="2.45"/><circle cx="541.9" cy="392.9" r="2.45"/><circle cx="546.7" cy="393.7" r="2.45"/><circle cx="554.4" cy="393.7" r="2.45"/><circle cx="541.6" cy="399.3" r="2.45"/><circle cx="546.7" cy="398.2" r="2.45"/><circle cx="552.3" cy="398.0" r="2.45"/><circle cx="555.9" cy="398.0" r="2.45"/><circle cx="547.7" cy="403.1" r="2.45"/><circle cx="552.1" cy="404.2" r="2.45"/><circle cx="560.5" cy="393.9" r="2.45"/><circle cx="557.4" cy="379.1" r="2.45"/><circle cx="567.5" cy="374.7" r="2.45"/><circle cx="573.8" cy="389.9" r="2.45"/><circle cx="578.4" cy="386.8" r="2.45"/><circle cx="573.3" cy="396.5" r="2.45"/><circle cx="571.2" cy="401.6" r="2.45"/><circle cx="587.1" cy="408.5" r="2.45"/><circle cx="587.6" cy="375.0" r="2.45"/><circle cx="593.0" cy="366.6" r="2.45"/><circle cx="596.8" cy="364.1" r="2.45"/><circle cx="600.6" cy="361.8" r="2.45"/><circle cx="593.7" cy="371.7" r="2.45"/><circle cx="593.2" cy="378.4" r="2.45"/><circle cx="598.8" cy="378.1" r="2.45"/><circle cx="589.9" cy="381.9" r="2.45"/><circle cx="600.6" cy="382.5" r="2.45"/><circle cx="607.4" cy="362.1" r="2.45"/><circle cx="607.4" cy="365.5" r="2.45"/><circle cx="607.4" cy="370.9" r="2.45"/><circle cx="614.3" cy="367.2" r="2.45"/><circle cx="620.9" cy="377.6" r="2.45"/><circle cx="627.8" cy="367.4" r="2.45"/><circle cx="629.1" cy="369.4" r="2.45"/><circle cx="630.5" cy="371.5" r="2.45"/><circle cx="635.3" cy="373.0" r="2.45"/><circle cx="636.8" cy="369.4" r="2.45"/><circle cx="638.6" cy="372.0" r="2.45"/><circle cx="637.0" cy="362.5" r="2.45"/><circle cx="643.1" cy="362.5" r="2.45"/><circle cx="645.0" cy="377.1" r="2.45"/><circle cx="652.9" cy="362.8" r="2.45"/><circle cx="652.9" cy="370.1" r="2.45"/><circle cx="634.7" cy="397.2" r="2.45"/><circle cx="637.6" cy="396.2" r="2.45"/></g>
<rect x="539.1" y="260.9" width="131.00" height="179.00" fill="none" stroke="#1a1a1a" stroke-width="1"/>
<path d="M535.10 439.90H539.1M535.70 422.00H539.1M535.10 404.10H539.1M535.70 386.20H539.1M535.10 368.30H539.1M535.70 350.40H539.1M535.10 332.50H539.1M535.70 314.60H539.1M535.10 296.70H539.1M535.70 278.80H539.1M535.10 260.90H539.1M539.10 439.9V443.40M571.85 439.9V443.40M604.60 439.9V443.40M637.35 439.9V443.40M670.10 439.9V443.40" stroke="#1a1a1a" stroke-width="1" fill="none"/>
<text x="528.10" y="443.80" font-size="12.3" text-anchor="end">0.0</text>
<text x="528.10" y="408.00" font-size="12.3" text-anchor="end">1.0</text>
<text x="528.10" y="372.20" font-size="12.3" text-anchor="end">2.0</text>
<text x="528.10" y="336.40" font-size="12.3" text-anchor="end">3.0</text>
<text x="528.10" y="300.60" font-size="12.3" text-anchor="end">4.0</text>
<text x="528.10" y="264.80" font-size="12.3" text-anchor="end">5.0</text>
<text x="539.10" y="458.30" font-size="12.3" text-anchor="middle">0</text>
<text x="571.85" y="458.30" font-size="12.3" text-anchor="middle">0.01</text>
<text x="604.60" y="458.30" font-size="12.3" text-anchor="middle">0.02</text>
<text x="637.35" y="458.30" font-size="12.3" text-anchor="middle">0.03</text>
<text x="670.10" y="458.30" font-size="12.3" text-anchor="middle">0.04</text>
<text x="82.60" y="478.20" font-size="14" ><tspan font-style="italic">f</tspan><tspan font-style="italic" dx="3.3">’</tspan><tspan font-style="italic" font-size="10" dx="-1.8" dy="2.7">c</tspan><tspan dy="-2.7" dx="0.7"> (MPa)</tspan></text>
<text x="255.80" y="476.20" font-size="14"><tspan font-style="italic">d</tspan> (mm)</text>
<text x="435.50" y="476.50" font-size="14" font-style="italic">a/d</text>
<text x="605.10" y="475.50" font-size="14" font-style="italic">ρ<tspan font-size="9" dy="1.6" dx="0.6">v</tspan></text>
<text x="354.3" y="499.00" font-size="15.9" text-anchor="middle">(b) ACI 318-19 (2019)</text>
<text transform="translate(10,348.3) rotate(-90)" font-size="15" text-anchor="middle" font-style="italic">V<tspan font-size="9" dy="2.6">test</tspan><tspan dy="-2.6">/V</tspan><tspan font-size="9" dy="2.6">predict</tspan></text>
<g fill="#0000ff" style="color:#0000ff" font-size="11.8">
<text x="51.0" y="277.40">Mean = 1.592</text>
<text x="51.0" y="291.80">COV = 0.21</text>
<text x="51.0" y="306.10">Max = 2.19</text>
<text x="51.0" y="319.80" xml:space="preserve">Min =  0.88</text>
<text x="594.00" y="277.80">P<tspan font-size="8.4" dy="2.6">0.05</tspan><tspan dy="-2.6" dx="1.2">= 1.12</tspan></text>
<text x="594.00" y="292.10">AAE = 0.35</text>
<text x="594.00" y="306.10">&lt; 0.75 = 0%</text>
</g>
<line x1="46.0" y1="662.50" x2="178.9" y2="662.50" stroke="#1a1a1a" stroke-width="1.0" stroke-dasharray="3.5,2.6"/>
<g fill="#d4d4d4" stroke="#1a1a1a" stroke-width="1.0"><circle cx="86.0" cy="642.0" r="2.45"/><circle cx="93.0" cy="645.0" r="2.45"/><circle cx="99.0" cy="650.0" r="2.45"/><circle cx="88.0" cy="652.0" r="2.45"/><circle cx="94.0" cy="657.0" r="2.45"/><circle cx="100.0" cy="664.0" r="2.45"/><circle cx="85.0" cy="662.0" r="2.45"/><circle cx="92.0" cy="665.0" r="2.45"/><circle cx="81.0" cy="646.0" r="2.45"/><circle cx="103.0" cy="657.0" r="2.45"/><circle cx="71.1" cy="621.8" r="2.45"/><circle cx="94.8" cy="626.4" r="2.45"/><circle cx="77.2" cy="630.4" r="2.45"/><circle cx="82.8" cy="635.0" r="2.45"/><circle cx="69.7" cy="638.8" r="2.45"/><circle cx="91.0" cy="638.4" r="2.45"/><circle cx="93.0" cy="638.8" r="2.45"/><circle cx="83.8" cy="640.9" r="2.45"/><circle cx="99.7" cy="641.2" r="2.45"/><circle cx="76.2" cy="642.5" r="2.45"/><circle cx="74.8" cy="645.3" r="2.45"/><circle cx="95.6" cy="642.2" r="2.45"/><circle cx="83.8" cy="647.3" r="2.45"/><circle cx="98.1" cy="647.3" r="2.45"/><circle cx="89.5" cy="648.8" r="2.45"/><circle cx="77.7" cy="649.0" r="2.45"/><circle cx="79.7" cy="652.1" r="2.45"/><circle cx="86.4" cy="651.4" r="2.45"/><circle cx="93.8" cy="650.4" r="2.45"/><circle cx="96.1" cy="654.1" r="2.45"/><circle cx="100.2" cy="654.5" r="2.45"/><circle cx="105.1" cy="652.1" r="2.45"/><circle cx="105.1" cy="654.1" r="2.45"/><circle cx="87.7" cy="656.0" r="2.45"/><circle cx="83.3" cy="656.5" r="2.45"/><circle cx="91.5" cy="659.0" r="2.45"/><circle cx="96.6" cy="662.1" r="2.45"/><circle cx="100.2" cy="661.1" r="2.45"/><circle cx="105.3" cy="660.6" r="2.45"/><circle cx="90.5" cy="663.6" r="2.45"/><circle cx="97.6" cy="665.2" r="2.45"/><circle cx="86.7" cy="668.0" r="2.45"/><circle cx="90.8" cy="668.8" r="2.45"/><circle cx="96.6" cy="669.8" r="2.45"/><circle cx="105.3" cy="670.8" r="2.45"/><circle cx="66.5" cy="653.7" r="2.45"/><circle cx="63.2" cy="656.8" r="2.45"/><circle cx="94.6" cy="667.7" r="2.45"/><circle cx="91.0" cy="653.9" r="2.45"/><circle cx="116.6" cy="625.1" r="2.45"/><circle cx="120.2" cy="628.6" r="2.45"/><circle cx="124.8" cy="637.4" r="2.45"/><circle cx="124.8" cy="651.9" r="2.45"/><circle cx="139.4" cy="656.8" r="2.45"/><circle cx="139.8" cy="665.2" r="2.45"/><circle cx="150.1" cy="659.6" r="2.45"/><circle cx="156.0" cy="643.7" r="2.45"/><circle cx="156.0" cy="649.9" r="2.45"/></g>
<rect x="46.0" y="518.5" width="132.90" height="179.70" fill="none" stroke="#1a1a1a" stroke-width="1"/>
<path d="M42.00 698.20H46.0M42.60 680.23H46.0M42.00 662.26H46.0M42.60 644.29H46.0M42.00 626.32H46.0M42.60 608.35H46.0M42.00 590.38H46.0M42.60 572.41H46.0M42.00 554.44H46.0M42.60 536.47H46.0M42.00 518.50H46.0M46.00 698.2V701.70M79.22 698.2V701.70M112.45 698.2V701.70M145.68 698.2V701.70M178.90 698.2V701.70" stroke="#1a1a1a" stroke-width="1" fill="none"/>
<text x="35.00" y="702.10" font-size="12.3" text-anchor="end">0.0</text>
<text x="35.00" y="666.16" font-size="12.3" text-anchor="end">1.0</text>
<text x="35.00" y="630.22" font-size="12.3" text-anchor="end">2.0</text>
<text x="35.00" y="594.28" font-size="12.3" text-anchor="end">3.0</text>
<text x="35.00" y="558.34" font-size="12.3" text-anchor="end">4.0</text>
<text x="35.00" y="522.40" font-size="12.3" text-anchor="end">5.0</text>
<text x="46.00" y="716.60" font-size="12.3" text-anchor="middle">0</text>
<text x="79.22" y="716.60" font-size="12.3" text-anchor="middle">30</text>
<text x="112.45" y="716.60" font-size="12.3" text-anchor="middle">60</text>
<text x="145.68" y="716.60" font-size="12.3" text-anchor="middle">90</text>
<text x="178.90" y="716.60" font-size="12.3" text-anchor="middle">120</text>
<line x1="209.6" y1="662.50" x2="342.6" y2="662.50" stroke="#1a1a1a" stroke-width="1.0" stroke-dasharray="3.5,2.6"/>
<g fill="#d4d4d4" stroke="#1a1a1a" stroke-width="1.0"><circle cx="239.7" cy="654.0" r="2.45"/><circle cx="242.0" cy="653.0" r="2.45"/><circle cx="247.6" cy="654.0" r="2.45"/><circle cx="247.6" cy="660.0" r="2.45"/><circle cx="254.0" cy="645.0" r="2.45"/><circle cx="254.0" cy="652.0" r="2.45"/><circle cx="254.0" cy="663.0" r="2.45"/><circle cx="259.6" cy="648.0" r="2.45"/><circle cx="259.6" cy="658.0" r="2.45"/><circle cx="264.2" cy="654.0" r="2.45"/><circle cx="269.3" cy="649.0" r="2.45"/><circle cx="284.8" cy="651.0" r="2.45"/><circle cx="284.8" cy="660.0" r="2.45"/><circle cx="244.8" cy="621.8" r="2.45"/><circle cx="237.4" cy="637.4" r="2.45"/><circle cx="226.6" cy="665.7" r="2.45"/><circle cx="236.1" cy="651.1" r="2.45"/><circle cx="239.7" cy="651.9" r="2.45"/><circle cx="242.2" cy="649.3" r="2.45"/><circle cx="239.1" cy="656.5" r="2.45"/><circle cx="239.7" cy="659.6" r="2.45"/><circle cx="242.7" cy="656.5" r="2.45"/><circle cx="239.7" cy="668.8" r="2.45"/><circle cx="241.7" cy="669.3" r="2.45"/><circle cx="247.6" cy="648.3" r="2.45"/><circle cx="247.6" cy="651.7" r="2.45"/><circle cx="247.6" cy="656.5" r="2.45"/><circle cx="247.6" cy="668.2" r="2.45"/><circle cx="248.3" cy="671.3" r="2.45"/><circle cx="254.0" cy="641.9" r="2.45"/><circle cx="254.0" cy="647.3" r="2.45"/><circle cx="254.0" cy="650.4" r="2.45"/><circle cx="254.0" cy="654.8" r="2.45"/><circle cx="254.0" cy="658.0" r="2.45"/><circle cx="254.0" cy="660.1" r="2.45"/><circle cx="254.0" cy="666.2" r="2.45"/><circle cx="260.1" cy="642.9" r="2.45"/><circle cx="259.6" cy="646.8" r="2.45"/><circle cx="259.6" cy="650.1" r="2.45"/><circle cx="259.6" cy="653.4" r="2.45"/><circle cx="259.6" cy="656.5" r="2.45"/><circle cx="260.1" cy="660.1" r="2.45"/><circle cx="260.1" cy="663.6" r="2.45"/><circle cx="260.1" cy="669.1" r="2.45"/><circle cx="264.2" cy="642.5" r="2.45"/><circle cx="264.2" cy="646.3" r="2.45"/><circle cx="264.7" cy="650.9" r="2.45"/><circle cx="265.0" cy="656.8" r="2.45"/><circle cx="269.1" cy="635.0" r="2.45"/><circle cx="272.2" cy="638.1" r="2.45"/><circle cx="271.8" cy="641.2" r="2.45"/><circle cx="269.3" cy="645.8" r="2.45"/><circle cx="272.4" cy="648.3" r="2.45"/><circle cx="269.3" cy="652.4" r="2.45"/><circle cx="273.9" cy="654.5" r="2.45"/><circle cx="284.8" cy="630.9" r="2.45"/><circle cx="300.9" cy="626.9" r="2.45"/><circle cx="290.4" cy="641.7" r="2.45"/><circle cx="302.9" cy="639.1" r="2.45"/><circle cx="284.8" cy="647.6" r="2.45"/><circle cx="289.2" cy="647.6" r="2.45"/><circle cx="289.2" cy="650.7" r="2.45"/><circle cx="300.8" cy="648.0" r="2.45"/><circle cx="284.8" cy="654.1" r="2.45"/><circle cx="284.8" cy="657.5" r="2.45"/><circle cx="281.7" cy="659.9" r="2.45"/><circle cx="285.1" cy="662.6" r="2.45"/><circle cx="285.1" cy="665.2" r="2.45"/><circle cx="284.8" cy="669.8" r="2.45"/></g>
<rect x="209.6" y="518.5" width="133.00" height="179.70" fill="none" stroke="#1a1a1a" stroke-width="1"/>
<path d="M205.60 698.20H209.6M206.20 680.23H209.6M205.60 662.26H209.6M206.20 644.29H209.6M205.60 626.32H209.6M206.20 608.35H209.6M205.60 590.38H209.6M206.20 572.41H209.6M205.60 554.44H209.6M206.20 536.47H209.6M205.60 518.50H209.6M209.60 698.2V701.70M242.85 698.2V701.70M276.10 698.2V701.70M309.35 698.2V701.70M342.60 698.2V701.70" stroke="#1a1a1a" stroke-width="1" fill="none"/>
<text x="198.60" y="702.10" font-size="12.3" text-anchor="end">0.0</text>
<text x="198.60" y="666.16" font-size="12.3" text-anchor="end">1.0</text>
<text x="198.60" y="630.22" font-size="12.3" text-anchor="end">2.0</text>
<text x="198.60" y="594.28" font-size="12.3" text-anchor="end">3.0</text>
<text x="198.60" y="558.34" font-size="12.3" text-anchor="end">4.0</text>
<text x="198.60" y="522.40" font-size="12.3" text-anchor="end">5.0</text>
<text x="209.60" y="716.60" font-size="12.3" text-anchor="middle">0</text>
<text x="242.85" y="716.60" font-size="12.3" text-anchor="middle">300</text>
<text x="276.10" y="716.60" font-size="12.3" text-anchor="middle">600</text>
<text x="309.35" y="716.60" font-size="12.3" text-anchor="middle">900</text>
<text x="342.60" y="716.60" font-size="12.3" text-anchor="middle">1200</text>
<line x1="372.5" y1="662.50" x2="504.6" y2="662.50" stroke="#1a1a1a" stroke-width="1.0" stroke-dasharray="3.5,2.6"/>
<g fill="#d4d4d4" stroke="#1a1a1a" stroke-width="1.0"><circle cx="404.0" cy="645.0" r="2.45"/><circle cx="406.0" cy="650.0" r="2.45"/><circle cx="410.0" cy="646.0" r="2.45"/><circle cx="416.0" cy="647.0" r="2.45"/><circle cx="412.0" cy="653.0" r="2.45"/><circle cx="417.0" cy="659.0" r="2.45"/><circle cx="405.0" cy="657.0" r="2.45"/><circle cx="411.0" cy="666.0" r="2.45"/><circle cx="418.0" cy="664.0" r="2.45"/><circle cx="422.0" cy="654.0" r="2.45"/><circle cx="400.0" cy="645.0" r="2.45"/><circle cx="406.0" cy="669.0" r="2.45"/><circle cx="407.6" cy="622.1" r="2.45"/><circle cx="412.1" cy="625.3" r="2.45"/><circle cx="411.9" cy="628.9" r="2.45"/><circle cx="406.7" cy="631.0" r="2.45"/><circle cx="402.7" cy="635.5" r="2.45"/><circle cx="399.8" cy="638.8" r="2.45"/><circle cx="400.8" cy="641.5" r="2.45"/><circle cx="402.7" cy="645.8" r="2.45"/><circle cx="399.8" cy="649.3" r="2.45"/><circle cx="402.7" cy="652.9" r="2.45"/><circle cx="400.4" cy="653.9" r="2.45"/><circle cx="410.8" cy="642.7" r="2.45"/><circle cx="413.9" cy="641.7" r="2.45"/><circle cx="414.7" cy="643.7" r="2.45"/><circle cx="409.3" cy="647.8" r="2.45"/><circle cx="409.8" cy="650.4" r="2.45"/><circle cx="414.7" cy="650.4" r="2.45"/><circle cx="407.8" cy="654.5" r="2.45"/><circle cx="412.9" cy="656.5" r="2.45"/><circle cx="419.5" cy="649.9" r="2.45"/><circle cx="419.5" cy="651.7" r="2.45"/><circle cx="420.2" cy="657.5" r="2.45"/><circle cx="426.2" cy="648.3" r="2.45"/><circle cx="426.2" cy="652.9" r="2.45"/><circle cx="424.6" cy="656.5" r="2.45"/><circle cx="403.9" cy="660.1" r="2.45"/><circle cx="409.3" cy="660.1" r="2.45"/><circle cx="408.8" cy="663.1" r="2.45"/><circle cx="414.4" cy="663.6" r="2.45"/><circle cx="402.7" cy="665.7" r="2.45"/><circle cx="401.6" cy="668.8" r="2.45"/><circle cx="408.3" cy="667.2" r="2.45"/><circle cx="409.8" cy="671.1" r="2.45"/><circle cx="415.4" cy="669.1" r="2.45"/><circle cx="421.0" cy="668.8" r="2.45"/><circle cx="426.2" cy="627.2" r="2.45"/><circle cx="424.9" cy="639.4" r="2.45"/><circle cx="436.2" cy="650.9" r="2.45"/><circle cx="436.4" cy="654.5" r="2.45"/><circle cx="433.8" cy="657.0" r="2.45"/><circle cx="437.4" cy="659.9" r="2.45"/><circle cx="417.0" cy="655.0" r="2.45"/><circle cx="464.6" cy="637.8" r="2.45"/><circle cx="448.3" cy="652.7" r="2.45"/><circle cx="448.1" cy="656.8" r="2.45"/><circle cx="459.5" cy="652.1" r="2.45"/><circle cx="458.3" cy="654.5" r="2.45"/><circle cx="461.1" cy="653.4" r="2.45"/><circle cx="457.0" cy="659.6" r="2.45"/><circle cx="473.0" cy="653.9" r="2.45"/><circle cx="473.0" cy="657.2" r="2.45"/><circle cx="484.0" cy="650.9" r="2.45"/><circle cx="483.5" cy="656.5" r="2.45"/></g>
<rect x="372.5" y="518.5" width="132.10" height="179.70" fill="none" stroke="#1a1a1a" stroke-width="1"/>
<path d="M368.50 698.20H372.5M369.10 680.23H372.5M368.50 662.26H372.5M369.10 644.29H372.5M368.50 626.32H372.5M369.10 608.35H372.5M368.50 590.38H372.5M369.10 572.41H372.5M368.50 554.44H372.5M369.10 536.47H372.5M368.50 518.50H372.5M372.50 698.2V701.70M410.24 698.2V701.70M447.99 698.2V701.70M485.73 698.2V701.70" stroke="#1a1a1a" stroke-width="1" fill="none"/>
<text x="361.50" y="702.10" font-size="12.3" text-anchor="end">0.0</text>
<text x="361.50" y="666.16" font-size="12.3" text-anchor="end">1.0</text>
<text x="361.50" y="630.22" font-size="12.3" text-anchor="end">2.0</text>
<text x="361.50" y="594.28" font-size="12.3" text-anchor="end">3.0</text>
<text x="361.50" y="558.34" font-size="12.3" text-anchor="end">4.0</text>
<text x="361.50" y="522.40" font-size="12.3" text-anchor="end">5.0</text>
<text x="372.50" y="716.60" font-size="12.3" text-anchor="middle">1</text>
<text x="410.24" y="716.60" font-size="12.3" text-anchor="middle">3</text>
<text x="447.99" y="716.60" font-size="12.3" text-anchor="middle">5</text>
<text x="485.73" y="716.60" font-size="12.3" text-anchor="middle">7</text>
<line x1="539.1" y1="662.50" x2="671.2" y2="662.50" stroke="#1a1a1a" stroke-width="1.0" stroke-dasharray="3.5,2.6"/>
<g fill="#d4d4d4" stroke="#1a1a1a" stroke-width="1.0"><circle cx="545.0" cy="646.0" r="2.45"/><circle cx="551.0" cy="648.0" r="2.45"/><circle cx="557.0" cy="652.0" r="2.45"/><circle cx="546.0" cy="652.0" r="2.45"/><circle cx="552.0" cy="654.0" r="2.45"/><circle cx="558.0" cy="658.0" r="2.45"/><circle cx="543.0" cy="660.0" r="2.45"/><circle cx="550.0" cy="664.0" r="2.45"/><circle cx="556.0" cy="661.0" r="2.45"/><circle cx="561.0" cy="648.0" r="2.45"/><circle cx="546.0" cy="665.0" r="2.45"/><circle cx="546.0" cy="642.2" r="2.45"/><circle cx="549.1" cy="644.2" r="2.45"/><circle cx="553.4" cy="642.5" r="2.45"/><circle cx="556.9" cy="648.3" r="2.45"/><circle cx="543.1" cy="650.9" r="2.45"/><circle cx="548.8" cy="650.7" r="2.45"/><circle cx="554.2" cy="651.7" r="2.45"/><circle cx="544.2" cy="654.8" r="2.45"/><circle cx="541.1" cy="657.5" r="2.45"/><circle cx="548.8" cy="656.8" r="2.45"/><circle cx="554.2" cy="656.8" r="2.45"/><circle cx="545.7" cy="660.1" r="2.45"/><circle cx="548.8" cy="662.6" r="2.45"/><circle cx="560.0" cy="652.4" r="2.45"/><circle cx="561.5" cy="656.0" r="2.45"/><circle cx="564.6" cy="652.9" r="2.45"/><circle cx="567.5" cy="650.1" r="2.45"/><circle cx="562.5" cy="637.6" r="2.45"/><circle cx="561.5" cy="639.6" r="2.45"/><circle cx="557.9" cy="665.7" r="2.45"/><circle cx="554.4" cy="668.5" r="2.45"/><circle cx="551.8" cy="670.3" r="2.45"/><circle cx="547.7" cy="668.8" r="2.45"/><circle cx="544.4" cy="671.3" r="2.45"/><circle cx="573.8" cy="647.8" r="2.45"/><circle cx="573.3" cy="654.5" r="2.45"/><circle cx="578.4" cy="652.9" r="2.45"/><circle cx="571.2" cy="659.9" r="2.45"/><circle cx="597.1" cy="622.1" r="2.45"/><circle cx="593.2" cy="638.8" r="2.45"/><circle cx="600.9" cy="639.4" r="2.45"/><circle cx="594.2" cy="643.2" r="2.45"/><circle cx="593.7" cy="645.8" r="2.45"/><circle cx="590.1" cy="648.6" r="2.45"/><circle cx="593.2" cy="654.8" r="2.45"/><circle cx="598.3" cy="651.9" r="2.45"/><circle cx="600.9" cy="652.9" r="2.45"/><circle cx="587.6" cy="657.2" r="2.45"/><circle cx="587.3" cy="666.7" r="2.45"/><circle cx="551.3" cy="660.1" r="2.45"/><circle cx="555.4" cy="666.2" r="2.45"/><circle cx="607.7" cy="625.8" r="2.45"/><circle cx="607.7" cy="629.2" r="2.45"/><circle cx="614.8" cy="626.9" r="2.45"/><circle cx="607.7" cy="661.1" r="2.45"/><circle cx="607.7" cy="669.3" r="2.45"/><circle cx="621.7" cy="664.2" r="2.45"/><circle cx="635.8" cy="630.9" r="2.45"/><circle cx="630.7" cy="635.8" r="2.45"/><circle cx="628.1" cy="639.1" r="2.45"/><circle cx="629.6" cy="641.5" r="2.45"/><circle cx="637.3" cy="641.9" r="2.45"/><circle cx="637.3" cy="647.3" r="2.45"/><circle cx="639.3" cy="649.0" r="2.45"/><circle cx="645.5" cy="647.8" r="2.45"/><circle cx="643.9" cy="650.4" r="2.45"/><circle cx="638.3" cy="654.5" r="2.45"/><circle cx="635.8" cy="657.2" r="2.45"/><circle cx="654.0" cy="642.2" r="2.45"/><circle cx="654.0" cy="650.1" r="2.45"/></g>
<rect x="539.1" y="518.5" width="132.10" height="179.70" fill="none" stroke="#1a1a1a" stroke-width="1"/>
<path d="M535.10 698.20H539.1M535.70 680.23H539.1M535.10 662.26H539.1M535.70 644.29H539.1M535.10 626.32H539.1M535.70 608.35H539.1M535.10 590.38H539.1M535.70 572.41H539.1M535.10 554.44H539.1M535.70 536.47H539.1M535.10 518.50H539.1M539.10 698.2V701.70M572.12 698.2V701.70M605.15 698.2V701.70M638.18 698.2V701.70M671.20 698.2V701.70" stroke="#1a1a1a" stroke-width="1" fill="none"/>
<text x="528.10" y="702.10" font-size="12.3" text-anchor="end">0.0</text>
<text x="528.10" y="666.16" font-size="12.3" text-anchor="end">1.0</text>
<text x="528.10" y="630.22" font-size="12.3" text-anchor="end">2.0</text>
<text x="528.10" y="594.28" font-size="12.3" text-anchor="end">3.0</text>
<text x="528.10" y="558.34" font-size="12.3" text-anchor="end">4.0</text>
<text x="528.10" y="522.40" font-size="12.3" text-anchor="end">5.0</text>
<text x="539.10" y="716.60" font-size="12.3" text-anchor="middle">0</text>
<text x="572.12" y="716.60" font-size="12.3" text-anchor="middle">0.01</text>
<text x="605.15" y="716.60" font-size="12.3" text-anchor="middle">0.02</text>
<text x="638.18" y="716.60" font-size="12.3" text-anchor="middle">0.03</text>
<text x="671.20" y="716.60" font-size="12.3" text-anchor="middle">0.04</text>
<text x="82.60" y="736.00" font-size="14" ><tspan font-style="italic">f</tspan><tspan font-style="italic" dx="3.3">’</tspan><tspan font-style="italic" font-size="10" dx="-1.8" dy="2.7">c</tspan><tspan dy="-2.7" dx="0.7"> (MPa)</tspan></text>
<text x="256.60" y="734.00" font-size="14"><tspan font-style="italic">d</tspan> (mm)</text>
<text x="435.40" y="734.40" font-size="14" font-style="italic">a/d</text>
<text x="605.10" y="733.80" font-size="14" font-style="italic">ρ<tspan font-size="9" dy="1.6" dx="0.6">v</tspan></text>
<text x="354.3" y="756.90" font-size="15.9" text-anchor="middle">(c) CSA A23.3:24 (2024)</text>
<text transform="translate(10,611.3) rotate(-90)" font-size="15" text-anchor="middle" font-style="italic">V<tspan font-size="9" dy="2.6">test</tspan><tspan dy="-2.6">/V</tspan><tspan font-size="9" dy="2.6">predict</tspan></text>
<g fill="#0000ff" style="color:#0000ff" font-size="11.8">
<text x="51.0" y="534.40">Mean = 1.276</text>
<text x="51.0" y="548.60">COV = 0.19</text>
<text x="51.0" y="562.60">Max = 2.12</text>
<text x="51.0" y="576.40" xml:space="preserve">Min =  0.75</text>
<text x="597.80" y="536.40">P<tspan font-size="8.4" dy="2.6">0.05</tspan><tspan dy="-2.6" dx="1.2">= 0.92</tspan></text>
<text x="597.80" y="550.60">AAE = 0.22</text>
<text x="597.80" y="564.40">&lt; 0.75 = 0%</text>
</g>
<line x1="45.5" y1="917.50" x2="178.0" y2="917.50" stroke="#1a1a1a" stroke-width="1.0" stroke-dasharray="3.5,2.6"/>
<g fill="#d4d4d4" stroke="#1a1a1a" stroke-width="1.0"><circle cx="86.0" cy="897.0" r="2.45"/><circle cx="93.0" cy="900.0" r="2.45"/><circle cx="99.0" cy="905.0" r="2.45"/><circle cx="88.0" cy="908.0" r="2.45"/><circle cx="94.0" cy="912.0" r="2.45"/><circle cx="100.0" cy="919.0" r="2.45"/><circle cx="85.0" cy="918.0" r="2.45"/><circle cx="92.0" cy="921.0" r="2.45"/><circle cx="81.0" cy="901.0" r="2.45"/><circle cx="103.0" cy="912.0" r="2.45"/><circle cx="70.3" cy="877.1" r="2.45"/><circle cx="94.0" cy="881.9" r="2.45"/><circle cx="76.5" cy="885.7" r="2.45"/><circle cx="82.3" cy="890.5" r="2.45"/><circle cx="69.0" cy="894.1" r="2.45"/><circle cx="90.0" cy="893.8" r="2.45"/><circle cx="92.2" cy="894.1" r="2.45"/><circle cx="83.6" cy="896.2" r="2.45"/><circle cx="98.6" cy="896.7" r="2.45"/><circle cx="104.1" cy="898.2" r="2.45"/><circle cx="75.7" cy="897.7" r="2.45"/><circle cx="74.4" cy="900.6" r="2.45"/><circle cx="83.6" cy="902.6" r="2.45"/><circle cx="97.6" cy="902.6" r="2.45"/><circle cx="88.9" cy="903.8" r="2.45"/><circle cx="77.5" cy="904.3" r="2.45"/><circle cx="104.3" cy="904.9" r="2.45"/><circle cx="78.7" cy="907.9" r="2.45"/><circle cx="85.7" cy="906.4" r="2.45"/><circle cx="93.8" cy="905.9" r="2.45"/><circle cx="86.9" cy="911.5" r="2.45"/><circle cx="99.0" cy="910.0" r="2.45"/><circle cx="95.1" cy="913.5" r="2.45"/><circle cx="90.0" cy="914.6" r="2.45"/><circle cx="82.3" cy="915.3" r="2.45"/><circle cx="104.8" cy="915.6" r="2.45"/><circle cx="99.7" cy="917.9" r="2.45"/><circle cx="90.0" cy="919.2" r="2.45"/><circle cx="96.1" cy="917.6" r="2.45"/><circle cx="85.9" cy="923.0" r="2.45"/><circle cx="90.0" cy="924.3" r="2.45"/><circle cx="93.8" cy="921.7" r="2.45"/><circle cx="96.3" cy="925.1" r="2.45"/><circle cx="104.8" cy="927.8" r="2.45"/><circle cx="66.0" cy="908.9" r="2.45"/><circle cx="62.6" cy="912.0" r="2.45"/><circle cx="92.0" cy="910.0" r="2.45"/><circle cx="115.9" cy="880.3" r="2.45"/><circle cx="119.7" cy="883.9" r="2.45"/><circle cx="124.3" cy="892.6" r="2.45"/><circle cx="124.3" cy="904.0" r="2.45"/><circle cx="138.8" cy="904.6" r="2.45"/><circle cx="155.5" cy="901.3" r="2.45"/><circle cx="139.1" cy="920.7" r="2.45"/><circle cx="149.6" cy="923.8" r="2.45"/></g>
<rect x="45.5" y="773.5" width="132.50" height="180.00" fill="none" stroke="#1a1a1a" stroke-width="1"/>
<path d="M41.50 953.50H45.5M42.10 935.50H45.5M41.50 917.50H45.5M42.10 899.50H45.5M41.50 881.50H45.5M42.10 863.50H45.5M41.50 845.50H45.5M42.10 827.50H45.5M41.50 809.50H45.5M42.10 791.50H45.5M41.50 773.50H45.5M45.50 953.5V957.00M78.62 953.5V957.00M111.75 953.5V957.00M144.88 953.5V957.00M178.00 953.5V957.00" stroke="#1a1a1a" stroke-width="1" fill="none"/>
<text x="34.50" y="957.40" font-size="12.3" text-anchor="end">0.0</text>
<text x="34.50" y="921.40" font-size="12.3" text-anchor="end">1.0</text>
<text x="34.50" y="885.40" font-size="12.3" text-anchor="end">2.0</text>
<text x="34.50" y="849.40" font-size="12.3" text-anchor="end">3.0</text>
<text x="34.50" y="813.40" font-size="12.3" text-anchor="end">4.0</text>
<text x="34.50" y="777.40" font-size="12.3" text-anchor="end">5.0</text>
<text x="45.50" y="971.90" font-size="12.3" text-anchor="middle">0</text>
<text x="78.62" y="971.90" font-size="12.3" text-anchor="middle">30</text>
<text x="111.75" y="971.90" font-size="12.3" text-anchor="middle">60</text>
<text x="144.88" y="971.90" font-size="12.3" text-anchor="middle">90</text>
<text x="178.00" y="971.90" font-size="12.3" text-anchor="middle">120</text>
<line x1="209.2" y1="917.50" x2="342.0" y2="917.50" stroke="#1a1a1a" stroke-width="1.0" stroke-dasharray="3.5,2.6"/>
<g fill="#d4d4d4" stroke="#1a1a1a" stroke-width="1.0"><circle cx="239.0" cy="909.0" r="2.45"/><circle cx="242.0" cy="907.0" r="2.45"/><circle cx="247.0" cy="909.0" r="2.45"/><circle cx="247.0" cy="915.0" r="2.45"/><circle cx="253.5" cy="900.0" r="2.45"/><circle cx="253.5" cy="907.0" r="2.45"/><circle cx="253.5" cy="918.0" r="2.45"/><circle cx="259.0" cy="908.0" r="2.45"/><circle cx="259.0" cy="913.0" r="2.45"/><circle cx="264.0" cy="904.0" r="2.45"/><circle cx="268.0" cy="904.0" r="2.45"/><circle cx="284.3" cy="906.0" r="2.45"/><circle cx="284.3" cy="911.0" r="2.45"/><circle cx="244.3" cy="877.1" r="2.45"/><circle cx="236.6" cy="892.6" r="2.45"/><circle cx="225.9" cy="920.7" r="2.45"/><circle cx="235.4" cy="906.4" r="2.45"/><circle cx="239.1" cy="907.1" r="2.45"/><circle cx="241.9" cy="902.6" r="2.45"/><circle cx="238.6" cy="911.5" r="2.45"/><circle cx="239.1" cy="914.6" r="2.45"/><circle cx="241.7" cy="912.0" r="2.45"/><circle cx="238.6" cy="922.0" r="2.45"/><circle cx="240.5" cy="924.3" r="2.45"/><circle cx="246.8" cy="903.8" r="2.45"/><circle cx="246.8" cy="906.9" r="2.45"/><circle cx="247.0" cy="911.5" r="2.45"/><circle cx="247.0" cy="923.0" r="2.45"/><circle cx="247.6" cy="928.2" r="2.45"/><circle cx="250.4" cy="903.8" r="2.45"/><circle cx="253.5" cy="905.4" r="2.45"/><circle cx="253.5" cy="910.0" r="2.45"/><circle cx="253.5" cy="912.8" r="2.45"/><circle cx="253.5" cy="915.6" r="2.45"/><circle cx="253.5" cy="921.4" r="2.45"/><circle cx="259.3" cy="898.2" r="2.45"/><circle cx="258.9" cy="902.0" r="2.45"/><circle cx="258.9" cy="905.7" r="2.45"/><circle cx="258.9" cy="911.2" r="2.45"/><circle cx="259.3" cy="915.6" r="2.45"/><circle cx="259.3" cy="919.2" r="2.45"/><circle cx="259.3" cy="924.1" r="2.45"/><circle cx="263.7" cy="897.5" r="2.45"/><circle cx="263.7" cy="901.6" r="2.45"/><circle cx="264.2" cy="908.1" r="2.45"/><circle cx="264.2" cy="911.5" r="2.45"/><circle cx="264.2" cy="915.6" r="2.45"/><circle cx="268.3" cy="890.5" r="2.45"/><circle cx="271.8" cy="893.4" r="2.45"/><circle cx="270.8" cy="896.2" r="2.45"/><circle cx="272.9" cy="898.5" r="2.45"/><circle cx="268.3" cy="900.8" r="2.45"/><circle cx="273.2" cy="905.1" r="2.45"/><circle cx="268.3" cy="907.7" r="2.45"/><circle cx="284.3" cy="885.9" r="2.45"/><circle cx="300.4" cy="881.9" r="2.45"/><circle cx="289.9" cy="896.9" r="2.45"/><circle cx="302.5" cy="894.4" r="2.45"/><circle cx="284.3" cy="902.8" r="2.45"/><circle cx="288.9" cy="902.8" r="2.45"/><circle cx="288.9" cy="905.7" r="2.45"/><circle cx="300.1" cy="903.3" r="2.45"/><circle cx="284.3" cy="909.5" r="2.45"/><circle cx="284.3" cy="912.5" r="2.45"/><circle cx="284.3" cy="915.1" r="2.45"/><circle cx="284.3" cy="917.6" r="2.45"/><circle cx="284.3" cy="920.2" r="2.45"/><circle cx="281.0" cy="923.8" r="2.45"/><circle cx="284.5" cy="924.8" r="2.45"/></g>
<rect x="209.2" y="773.5" width="132.80" height="180.00" fill="none" stroke="#1a1a1a" stroke-width="1"/>
<path d="M205.20 953.50H209.2M205.80 935.50H209.2M205.20 917.50H209.2M205.80 899.50H209.2M205.20 881.50H209.2M205.80 863.50H209.2M205.20 845.50H209.2M205.80 827.50H209.2M205.20 809.50H209.2M205.80 791.50H209.2M205.20 773.50H209.2M209.20 953.5V957.00M242.40 953.5V957.00M275.60 953.5V957.00M308.80 953.5V957.00M342.00 953.5V957.00" stroke="#1a1a1a" stroke-width="1" fill="none"/>
<text x="198.20" y="957.40" font-size="12.3" text-anchor="end">0.0</text>
<text x="198.20" y="921.40" font-size="12.3" text-anchor="end">1.0</text>
<text x="198.20" y="885.40" font-size="12.3" text-anchor="end">2.0</text>
<text x="198.20" y="849.40" font-size="12.3" text-anchor="end">3.0</text>
<text x="198.20" y="813.40" font-size="12.3" text-anchor="end">4.0</text>
<text x="198.20" y="777.40" font-size="12.3" text-anchor="end">5.0</text>
<text x="209.20" y="971.90" font-size="12.3" text-anchor="middle">0</text>
<text x="242.40" y="971.90" font-size="12.3" text-anchor="middle">300</text>
<text x="275.60" y="971.90" font-size="12.3" text-anchor="middle">600</text>
<text x="308.80" y="971.90" font-size="12.3" text-anchor="middle">900</text>
<text x="342.00" y="971.90" font-size="12.3" text-anchor="middle">1200</text>
<line x1="372.3" y1="917.50" x2="504.4" y2="917.50" stroke="#1a1a1a" stroke-width="1.0" stroke-dasharray="3.5,2.6"/>
<g fill="#d4d4d4" stroke="#1a1a1a" stroke-width="1.0"><circle cx="404.0" cy="900.0" r="2.45"/><circle cx="406.0" cy="905.0" r="2.45"/><circle cx="410.0" cy="901.0" r="2.45"/><circle cx="416.0" cy="902.0" r="2.45"/><circle cx="412.0" cy="908.0" r="2.45"/><circle cx="417.0" cy="914.0" r="2.45"/><circle cx="405.0" cy="912.0" r="2.45"/><circle cx="411.0" cy="921.0" r="2.45"/><circle cx="418.0" cy="919.0" r="2.45"/><circle cx="422.0" cy="909.0" r="2.45"/><circle cx="400.0" cy="900.0" r="2.45"/><circle cx="406.0" cy="924.0" r="2.45"/><circle cx="407.3" cy="877.1" r="2.45"/><circle cx="411.9" cy="880.3" r="2.45"/><circle cx="411.6" cy="883.9" r="2.45"/><circle cx="406.5" cy="885.9" r="2.45"/><circle cx="402.5" cy="890.5" r="2.45"/><circle cx="399.6" cy="893.8" r="2.45"/><circle cx="400.1" cy="896.2" r="2.45"/><circle cx="402.5" cy="900.8" r="2.45"/><circle cx="399.6" cy="903.8" r="2.45"/><circle cx="402.5" cy="907.7" r="2.45"/><circle cx="399.8" cy="908.9" r="2.45"/><circle cx="410.8" cy="897.5" r="2.45"/><circle cx="413.7" cy="896.7" r="2.45"/><circle cx="413.9" cy="898.7" r="2.45"/><circle cx="408.8" cy="902.6" r="2.45"/><circle cx="410.0" cy="905.4" r="2.45"/><circle cx="414.9" cy="904.3" r="2.45"/><circle cx="407.3" cy="909.5" r="2.45"/><circle cx="412.4" cy="911.5" r="2.45"/><circle cx="419.0" cy="904.3" r="2.45"/><circle cx="419.2" cy="906.9" r="2.45"/><circle cx="419.8" cy="910.8" r="2.45"/><circle cx="425.6" cy="903.3" r="2.45"/><circle cx="424.1" cy="905.9" r="2.45"/><circle cx="424.9" cy="912.5" r="2.45"/><circle cx="406.2" cy="913.5" r="2.45"/><circle cx="408.8" cy="915.6" r="2.45"/><circle cx="408.3" cy="918.1" r="2.45"/><circle cx="414.1" cy="919.2" r="2.45"/><circle cx="401.6" cy="920.7" r="2.45"/><circle cx="401.6" cy="923.2" r="2.45"/><circle cx="408.3" cy="923.8" r="2.45"/><circle cx="409.6" cy="928.2" r="2.45"/><circle cx="415.4" cy="924.3" r="2.45"/><circle cx="420.8" cy="922.0" r="2.45"/><circle cx="425.6" cy="881.9" r="2.45"/><circle cx="424.3" cy="894.4" r="2.45"/><circle cx="436.2" cy="898.2" r="2.45"/><circle cx="435.9" cy="905.4" r="2.45"/><circle cx="436.9" cy="909.5" r="2.45"/><circle cx="433.3" cy="912.0" r="2.45"/><circle cx="436.9" cy="912.2" r="2.45"/><circle cx="417.0" cy="910.0" r="2.45"/><circle cx="404.7" cy="905.9" r="2.45"/><circle cx="463.9" cy="892.6" r="2.45"/><circle cx="448.1" cy="907.9" r="2.45"/><circle cx="447.5" cy="911.5" r="2.45"/><circle cx="459.5" cy="907.1" r="2.45"/><circle cx="457.7" cy="909.5" r="2.45"/><circle cx="461.1" cy="908.4" r="2.45"/><circle cx="456.0" cy="914.6" r="2.45"/><circle cx="472.6" cy="908.9" r="2.45"/><circle cx="472.6" cy="912.2" r="2.45"/><circle cx="483.5" cy="905.9" r="2.45"/><circle cx="482.8" cy="911.8" r="2.45"/></g>
<rect x="372.3" y="773.5" width="132.10" height="180.00" fill="none" stroke="#1a1a1a" stroke-width="1"/>
<path d="M368.30 953.50H372.3M368.90 935.50H372.3M368.30 917.50H372.3M368.90 899.50H372.3M368.30 881.50H372.3M368.90 863.50H372.3M368.30 845.50H372.3M368.90 827.50H372.3M368.30 809.50H372.3M368.90 791.50H372.3M368.30 773.50H372.3M372.30 953.5V957.00M410.04 953.5V957.00M447.79 953.5V957.00M485.53 953.5V957.00" stroke="#1a1a1a" stroke-width="1" fill="none"/>
<text x="361.30" y="957.40" font-size="12.3" text-anchor="end">0.0</text>
<text x="361.30" y="921.40" font-size="12.3" text-anchor="end">1.0</text>
<text x="361.30" y="885.40" font-size="12.3" text-anchor="end">2.0</text>
<text x="361.30" y="849.40" font-size="12.3" text-anchor="end">3.0</text>
<text x="361.30" y="813.40" font-size="12.3" text-anchor="end">4.0</text>
<text x="361.30" y="777.40" font-size="12.3" text-anchor="end">5.0</text>
<text x="372.30" y="971.90" font-size="12.3" text-anchor="middle">1</text>
<text x="410.04" y="971.90" font-size="12.3" text-anchor="middle">3</text>
<text x="447.79" y="971.90" font-size="12.3" text-anchor="middle">5</text>
<text x="485.53" y="971.90" font-size="12.3" text-anchor="middle">7</text>
<line x1="538.9" y1="917.50" x2="670.2" y2="917.50" stroke="#1a1a1a" stroke-width="1.0" stroke-dasharray="3.5,2.6"/>
<g fill="#d4d4d4" stroke="#1a1a1a" stroke-width="1.0"><circle cx="545.0" cy="901.0" r="2.45"/><circle cx="551.0" cy="903.0" r="2.45"/><circle cx="557.0" cy="907.0" r="2.45"/><circle cx="546.0" cy="907.0" r="2.45"/><circle cx="552.0" cy="909.0" r="2.45"/><circle cx="558.0" cy="913.0" r="2.45"/><circle cx="543.0" cy="915.0" r="2.45"/><circle cx="550.0" cy="919.0" r="2.45"/><circle cx="556.0" cy="916.0" r="2.45"/><circle cx="561.0" cy="903.0" r="2.45"/><circle cx="546.0" cy="920.0" r="2.45"/><circle cx="553.9" cy="896.9" r="2.45"/><circle cx="549.1" cy="901.0" r="2.45"/><circle cx="554.4" cy="901.3" r="2.45"/><circle cx="556.9" cy="902.8" r="2.45"/><circle cx="542.6" cy="905.7" r="2.45"/><circle cx="549.1" cy="905.4" r="2.45"/><circle cx="554.4" cy="906.4" r="2.45"/><circle cx="542.1" cy="908.9" r="2.45"/><circle cx="548.8" cy="910.8" r="2.45"/><circle cx="554.6" cy="911.0" r="2.45"/><circle cx="541.1" cy="912.2" r="2.45"/><circle cx="544.4" cy="914.0" r="2.45"/><circle cx="549.1" cy="915.1" r="2.45"/><circle cx="549.1" cy="918.1" r="2.45"/><circle cx="560.3" cy="907.1" r="2.45"/><circle cx="562.0" cy="910.8" r="2.45"/><circle cx="564.6" cy="903.8" r="2.45"/><circle cx="564.6" cy="906.9" r="2.45"/><circle cx="567.5" cy="901.3" r="2.45"/><circle cx="563.1" cy="892.4" r="2.45"/><circle cx="561.7" cy="894.4" r="2.45"/><circle cx="546.2" cy="923.2" r="2.45"/><circle cx="544.7" cy="927.8" r="2.45"/><circle cx="552.3" cy="924.3" r="2.45"/><circle cx="554.6" cy="922.7" r="2.45"/><circle cx="558.3" cy="920.4" r="2.45"/><circle cx="574.0" cy="902.6" r="2.45"/><circle cx="578.7" cy="898.2" r="2.45"/><circle cx="573.6" cy="909.1" r="2.45"/><circle cx="571.7" cy="914.3" r="2.45"/><circle cx="596.8" cy="876.8" r="2.45"/><circle cx="593.0" cy="893.6" r="2.45"/><circle cx="600.9" cy="893.8" r="2.45"/><circle cx="593.7" cy="899.2" r="2.45"/><circle cx="593.7" cy="900.8" r="2.45"/><circle cx="587.6" cy="904.3" r="2.45"/><circle cx="589.9" cy="903.3" r="2.45"/><circle cx="593.2" cy="905.1" r="2.45"/><circle cx="598.8" cy="906.7" r="2.45"/><circle cx="600.9" cy="907.7" r="2.45"/><circle cx="587.1" cy="921.0" r="2.45"/><circle cx="548.8" cy="913.0" r="2.45"/><circle cx="545.7" cy="906.9" r="2.45"/><circle cx="607.7" cy="880.3" r="2.45"/><circle cx="607.7" cy="883.9" r="2.45"/><circle cx="614.5" cy="881.6" r="2.45"/><circle cx="607.7" cy="915.9" r="2.45"/><circle cx="607.7" cy="924.1" r="2.45"/><circle cx="621.3" cy="918.6" r="2.45"/><circle cx="635.3" cy="885.9" r="2.45"/><circle cx="630.5" cy="890.3" r="2.45"/><circle cx="627.8" cy="893.8" r="2.45"/><circle cx="629.1" cy="896.2" r="2.45"/><circle cx="637.0" cy="896.7" r="2.45"/><circle cx="636.8" cy="902.0" r="2.45"/><circle cx="638.6" cy="903.8" r="2.45"/><circle cx="645.0" cy="902.6" r="2.45"/><circle cx="643.4" cy="904.9" r="2.45"/><circle cx="638.0" cy="908.9" r="2.45"/><circle cx="635.3" cy="911.8" r="2.45"/><circle cx="653.3" cy="896.9" r="2.45"/><circle cx="653.3" cy="904.9" r="2.45"/></g>
<rect x="538.9" y="773.5" width="131.30" height="180.00" fill="none" stroke="#1a1a1a" stroke-width="1"/>
<path d="M534.90 953.50H538.9M535.50 935.50H538.9M534.90 917.50H538.9M535.50 899.50H538.9M534.90 881.50H538.9M535.50 863.50H538.9M534.90 845.50H538.9M535.50 827.50H538.9M534.90 809.50H538.9M535.50 791.50H538.9M534.90 773.50H538.9M538.90 953.5V957.00M571.73 953.5V957.00M604.55 953.5V957.00M637.38 953.5V957.00M670.20 953.5V957.00" stroke="#1a1a1a" stroke-width="1" fill="none"/>
<text x="527.90" y="957.40" font-size="12.3" text-anchor="end">0.0</text>
<text x="527.90" y="921.40" font-size="12.3" text-anchor="end">1.0</text>
<text x="527.90" y="885.40" font-size="12.3" text-anchor="end">2.0</text>
<text x="527.90" y="849.40" font-size="12.3" text-anchor="end">3.0</text>
<text x="527.90" y="813.40" font-size="12.3" text-anchor="end">4.0</text>
<text x="527.90" y="777.40" font-size="12.3" text-anchor="end">5.0</text>
<text x="538.90" y="971.90" font-size="12.3" text-anchor="middle">0</text>
<text x="571.73" y="971.90" font-size="12.3" text-anchor="middle">0.01</text>
<text x="604.55" y="971.90" font-size="12.3" text-anchor="middle">0.02</text>
<text x="637.38" y="971.90" font-size="12.3" text-anchor="middle">0.03</text>
<text x="670.20" y="971.90" font-size="12.3" text-anchor="middle">0.04</text>
<text x="82.10" y="991.30" font-size="14" ><tspan font-style="italic">f</tspan><tspan font-style="italic" dx="3.3">’</tspan><tspan font-style="italic" font-size="10" dx="-1.8" dy="2.7">c</tspan><tspan dy="-2.7" dx="0.7"> (MPa)</tspan></text>
<text x="256.20" y="989.30" font-size="14"><tspan font-style="italic">d</tspan> (mm)</text>
<text x="435.20" y="989.70" font-size="14" font-style="italic">a/d</text>
<text x="604.90" y="989.10" font-size="14" font-style="italic">ρ<tspan font-size="9" dy="1.6" dx="0.6">v</tspan></text>
<text x="354.3" y="1011.00" font-size="15.9" text-anchor="middle">(d) Laskar et al. (2010)</text>
<text transform="translate(10,866.1) rotate(-90)" font-size="15" text-anchor="middle" font-style="italic">V<tspan font-size="9" dy="2.6">test</tspan><tspan dy="-2.6">/V</tspan><tspan font-size="9" dy="2.6">predict</tspan></text>
<g fill="#0000ff" style="color:#0000ff" font-size="11.8">
<text x="51.0" y="789.40">Mean = 1.277</text>
<text x="51.0" y="803.40">COV = 0.19</text>
<text x="51.0" y="817.40">Max = 2.12</text>
<text x="51.0" y="831.40" xml:space="preserve">Min =  0.71</text>
<text x="583.60" y="790.80">P<tspan font-size="8.4" dy="2.6">0.05</tspan><tspan dy="-2.6" dx="1.2">= 0.91</tspan></text>
<text x="583.60" y="805.40">AAE = 0.22</text>
<text x="583.60" y="819.10">&lt; 0.75 = 0.86%</text>
</g>
<line x1="46.0" y1="1168.50" x2="178.9" y2="1168.50" stroke="#1a1a1a" stroke-width="1.0" stroke-dasharray="3.5,2.6"/>
<g fill="#d4d4d4" stroke="#1a1a1a" stroke-width="1.0"><circle cx="86.0" cy="1148.0" r="2.45"/><circle cx="93.0" cy="1151.0" r="2.45"/><circle cx="99.0" cy="1156.0" r="2.45"/><circle cx="88.0" cy="1158.0" r="2.45"/><circle cx="94.0" cy="1162.0" r="2.45"/><circle cx="100.0" cy="1169.0" r="2.45"/><circle cx="85.0" cy="1168.0" r="2.45"/><circle cx="92.0" cy="1171.0" r="2.45"/><circle cx="81.0" cy="1152.0" r="2.45"/><circle cx="103.0" cy="1163.0" r="2.45"/><circle cx="71.1" cy="1128.1" r="2.45"/><circle cx="105.1" cy="1128.3" r="2.45"/><circle cx="105.1" cy="1130.3" r="2.45"/><circle cx="94.9" cy="1132.9" r="2.45"/><circle cx="77.2" cy="1136.7" r="2.45"/><circle cx="83.0" cy="1141.8" r="2.45"/><circle cx="69.7" cy="1145.5" r="2.45"/><circle cx="90.8" cy="1144.8" r="2.45"/><circle cx="93.0" cy="1145.1" r="2.45"/><circle cx="84.0" cy="1147.5" r="2.45"/><circle cx="99.7" cy="1147.9" r="2.45"/><circle cx="76.2" cy="1148.7" r="2.45"/><circle cx="74.6" cy="1151.3" r="2.45"/><circle cx="84.0" cy="1153.6" r="2.45"/><circle cx="98.3" cy="1153.6" r="2.45"/><circle cx="77.7" cy="1155.4" r="2.45"/><circle cx="89.8" cy="1155.4" r="2.45"/><circle cx="94.6" cy="1156.7" r="2.45"/><circle cx="79.7" cy="1158.7" r="2.45"/><circle cx="86.4" cy="1157.7" r="2.45"/><circle cx="100.2" cy="1160.8" r="2.45"/><circle cx="87.7" cy="1162.2" r="2.45"/><circle cx="83.8" cy="1163.8" r="2.45"/><circle cx="95.9" cy="1164.6" r="2.45"/><circle cx="91.5" cy="1165.6" r="2.45"/><circle cx="105.3" cy="1166.9" r="2.45"/><circle cx="100.7" cy="1167.1" r="2.45"/><circle cx="90.8" cy="1170.0" r="2.45"/><circle cx="96.9" cy="1168.6" r="2.45"/><circle cx="98.1" cy="1171.0" r="2.45"/><circle cx="86.7" cy="1173.8" r="2.45"/><circle cx="90.8" cy="1175.1" r="2.45"/><circle cx="94.3" cy="1174.3" r="2.45"/><circle cx="97.1" cy="1176.1" r="2.45"/><circle cx="66.3" cy="1160.0" r="2.45"/><circle cx="63.2" cy="1162.8" r="2.45"/><circle cx="92.0" cy="1160.0" r="2.45"/><circle cx="116.6" cy="1131.9" r="2.45"/><circle cx="120.2" cy="1134.9" r="2.45"/><circle cx="124.8" cy="1143.8" r="2.45"/><circle cx="124.8" cy="1158.4" r="2.45"/><circle cx="139.4" cy="1156.7" r="2.45"/><circle cx="156.0" cy="1156.1" r="2.45"/><circle cx="156.0" cy="1163.0" r="2.45"/><circle cx="139.8" cy="1171.4" r="2.45"/><circle cx="150.4" cy="1173.8" r="2.45"/></g>
<rect x="46.0" y="1026.3" width="132.90" height="177.60" fill="none" stroke="#1a1a1a" stroke-width="1"/>
<path d="M42.00 1203.90H46.0M42.60 1186.14H46.0M42.00 1168.38H46.0M42.60 1150.62H46.0M42.00 1132.86H46.0M42.60 1115.10H46.0M42.00 1097.34H46.0M42.60 1079.58H46.0M42.00 1061.82H46.0M42.60 1044.06H46.0M42.00 1026.30H46.0M46.00 1203.9V1207.40M79.22 1203.9V1207.40M112.45 1203.9V1207.40M145.68 1203.9V1207.40M178.90 1203.9V1207.40" stroke="#1a1a1a" stroke-width="1" fill="none"/>
<text x="35.00" y="1207.80" font-size="12.3" text-anchor="end">0.0</text>
<text x="35.00" y="1172.28" font-size="12.3" text-anchor="end">1.0</text>
<text x="35.00" y="1136.76" font-size="12.3" text-anchor="end">2.0</text>
<text x="35.00" y="1101.24" font-size="12.3" text-anchor="end">3.0</text>
<text x="35.00" y="1065.72" font-size="12.3" text-anchor="end">4.0</text>
<text x="35.00" y="1030.20" font-size="12.3" text-anchor="end">5.0</text>
<text x="46.00" y="1222.30" font-size="12.3" text-anchor="middle">0</text>
<text x="79.22" y="1222.30" font-size="12.3" text-anchor="middle">30</text>
<text x="112.45" y="1222.30" font-size="12.3" text-anchor="middle">60</text>
<text x="145.68" y="1222.30" font-size="12.3" text-anchor="middle">90</text>
<text x="178.90" y="1222.30" font-size="12.3" text-anchor="middle">120</text>
<line x1="210.2" y1="1168.50" x2="340.8" y2="1168.50" stroke="#1a1a1a" stroke-width="1.0" stroke-dasharray="3.5,2.6"/>
<g fill="#d4d4d4" stroke="#1a1a1a" stroke-width="1.0"><circle cx="239.0" cy="1160.0" r="2.45"/><circle cx="242.0" cy="1158.0" r="2.45"/><circle cx="247.0" cy="1160.0" r="2.45"/><circle cx="247.0" cy="1165.0" r="2.45"/><circle cx="253.5" cy="1159.0" r="2.45"/><circle cx="253.5" cy="1163.0" r="2.45"/><circle cx="253.5" cy="1171.0" r="2.45"/><circle cx="259.0" cy="1159.0" r="2.45"/><circle cx="259.0" cy="1164.0" r="2.45"/><circle cx="263.7" cy="1155.0" r="2.45"/><circle cx="268.0" cy="1155.0" r="2.45"/><circle cx="283.8" cy="1157.0" r="2.45"/><circle cx="283.8" cy="1162.0" r="2.45"/><circle cx="244.6" cy="1128.8" r="2.45"/><circle cx="272.9" cy="1128.5" r="2.45"/><circle cx="272.4" cy="1130.3" r="2.45"/><circle cx="236.8" cy="1144.1" r="2.45"/><circle cx="226.4" cy="1171.7" r="2.45"/><circle cx="235.8" cy="1157.4" r="2.45"/><circle cx="239.7" cy="1158.4" r="2.45"/><circle cx="238.8" cy="1162.5" r="2.45"/><circle cx="239.7" cy="1165.3" r="2.45"/><circle cx="242.7" cy="1162.0" r="2.45"/><circle cx="239.1" cy="1174.8" r="2.45"/><circle cx="241.2" cy="1175.3" r="2.45"/><circle cx="247.3" cy="1154.9" r="2.45"/><circle cx="247.3" cy="1157.9" r="2.45"/><circle cx="247.3" cy="1162.5" r="2.45"/><circle cx="247.6" cy="1167.1" r="2.45"/><circle cx="247.0" cy="1174.1" r="2.45"/><circle cx="253.5" cy="1156.9" r="2.45"/><circle cx="253.5" cy="1161.5" r="2.45"/><circle cx="253.5" cy="1164.6" r="2.45"/><circle cx="253.5" cy="1166.6" r="2.45"/><circle cx="253.5" cy="1169.0" r="2.45"/><circle cx="253.5" cy="1172.7" r="2.45"/><circle cx="259.1" cy="1149.5" r="2.45"/><circle cx="258.9" cy="1156.9" r="2.45"/><circle cx="258.9" cy="1162.5" r="2.45"/><circle cx="259.3" cy="1166.6" r="2.45"/><circle cx="259.6" cy="1170.2" r="2.45"/><circle cx="259.6" cy="1175.1" r="2.45"/><circle cx="263.2" cy="1148.7" r="2.45"/><circle cx="263.7" cy="1153.6" r="2.45"/><circle cx="263.7" cy="1157.9" r="2.45"/><circle cx="262.6" cy="1160.0" r="2.45"/><circle cx="268.1" cy="1141.8" r="2.45"/><circle cx="271.1" cy="1144.6" r="2.45"/><circle cx="270.8" cy="1147.7" r="2.45"/><circle cx="268.1" cy="1152.0" r="2.45"/><circle cx="271.8" cy="1154.9" r="2.45"/><circle cx="268.3" cy="1159.1" r="2.45"/><circle cx="271.5" cy="1157.7" r="2.45"/><circle cx="283.8" cy="1137.5" r="2.45"/><circle cx="299.4" cy="1133.4" r="2.45"/><circle cx="289.2" cy="1148.2" r="2.45"/><circle cx="301.4" cy="1145.7" r="2.45"/><circle cx="283.8" cy="1153.8" r="2.45"/><circle cx="287.8" cy="1153.8" r="2.45"/><circle cx="288.1" cy="1156.4" r="2.45"/><circle cx="299.4" cy="1154.3" r="2.45"/><circle cx="283.8" cy="1160.0" r="2.45"/><circle cx="283.8" cy="1163.0" r="2.45"/><circle cx="283.8" cy="1165.6" r="2.45"/><circle cx="283.8" cy="1168.6" r="2.45"/><circle cx="283.8" cy="1171.4" r="2.45"/><circle cx="280.2" cy="1174.1" r="2.45"/><circle cx="283.8" cy="1176.1" r="2.45"/></g>
<rect x="210.2" y="1026.2" width="130.60" height="177.70" fill="none" stroke="#1a1a1a" stroke-width="1"/>
<path d="M206.20 1203.90H210.2M206.80 1186.13H210.2M206.20 1168.36H210.2M206.80 1150.59H210.2M206.20 1132.82H210.2M206.80 1115.05H210.2M206.20 1097.28H210.2M206.80 1079.51H210.2M206.20 1061.74H210.2M206.80 1043.97H210.2M206.20 1026.20H210.2M210.20 1203.9V1207.40M242.85 1203.9V1207.40M275.50 1203.9V1207.40M308.15 1203.9V1207.40M340.80 1203.9V1207.40" stroke="#1a1a1a" stroke-width="1" fill="none"/>
<text x="199.20" y="1207.80" font-size="12.3" text-anchor="end">0.0</text>
<text x="199.20" y="1172.26" font-size="12.3" text-anchor="end">1.0</text>
<text x="199.20" y="1136.72" font-size="12.3" text-anchor="end">2.0</text>
<text x="199.20" y="1101.18" font-size="12.3" text-anchor="end">3.0</text>
<text x="199.20" y="1065.64" font-size="12.3" text-anchor="end">4.0</text>
<text x="199.20" y="1030.10" font-size="12.3" text-anchor="end">5.0</text>
<text x="210.20" y="1222.30" font-size="12.3" text-anchor="middle">0</text>
<text x="242.85" y="1222.30" font-size="12.3" text-anchor="middle">300</text>
<text x="275.50" y="1222.30" font-size="12.3" text-anchor="middle">600</text>
<text x="308.15" y="1222.30" font-size="12.3" text-anchor="middle">900</text>
<text x="340.80" y="1222.30" font-size="12.3" text-anchor="middle">1200</text>
<line x1="372.1" y1="1168.50" x2="504.4" y2="1168.50" stroke="#1a1a1a" stroke-width="1.0" stroke-dasharray="3.5,2.6"/>
<g fill="#d4d4d4" stroke="#1a1a1a" stroke-width="1.0"><circle cx="404.0" cy="1151.0" r="2.45"/><circle cx="406.0" cy="1156.0" r="2.45"/><circle cx="410.0" cy="1152.0" r="2.45"/><circle cx="416.0" cy="1153.0" r="2.45"/><circle cx="412.0" cy="1159.0" r="2.45"/><circle cx="417.0" cy="1165.0" r="2.45"/><circle cx="405.0" cy="1163.0" r="2.45"/><circle cx="411.0" cy="1172.0" r="2.45"/><circle cx="418.0" cy="1170.0" r="2.45"/><circle cx="422.0" cy="1160.0" r="2.45"/><circle cx="400.0" cy="1151.0" r="2.45"/><circle cx="406.0" cy="1175.0" r="2.45"/><circle cx="407.3" cy="1128.3" r="2.45"/><circle cx="411.9" cy="1131.6" r="2.45"/><circle cx="411.9" cy="1135.2" r="2.45"/><circle cx="406.5" cy="1137.3" r="2.45"/><circle cx="402.5" cy="1141.8" r="2.45"/><circle cx="399.6" cy="1145.1" r="2.45"/><circle cx="400.4" cy="1147.5" r="2.45"/><circle cx="402.5" cy="1151.8" r="2.45"/><circle cx="399.6" cy="1154.9" r="2.45"/><circle cx="402.7" cy="1158.9" r="2.45"/><circle cx="400.1" cy="1160.0" r="2.45"/><circle cx="410.8" cy="1148.5" r="2.45"/><circle cx="413.9" cy="1147.5" r="2.45"/><circle cx="413.9" cy="1149.5" r="2.45"/><circle cx="408.8" cy="1153.8" r="2.45"/><circle cx="410.0" cy="1156.4" r="2.45"/><circle cx="414.9" cy="1155.7" r="2.45"/><circle cx="407.6" cy="1160.2" r="2.45"/><circle cx="412.7" cy="1162.2" r="2.45"/><circle cx="419.2" cy="1155.4" r="2.45"/><circle cx="419.2" cy="1157.7" r="2.45"/><circle cx="419.8" cy="1163.8" r="2.45"/><circle cx="426.2" cy="1154.0" r="2.45"/><circle cx="426.2" cy="1158.7" r="2.45"/><circle cx="424.6" cy="1168.1" r="2.45"/><circle cx="409.8" cy="1167.1" r="2.45"/><circle cx="413.9" cy="1169.7" r="2.45"/><circle cx="402.7" cy="1170.7" r="2.45"/><circle cx="401.6" cy="1174.1" r="2.45"/><circle cx="407.8" cy="1175.8" r="2.45"/><circle cx="415.4" cy="1175.1" r="2.45"/><circle cx="421.0" cy="1174.8" r="2.45"/><circle cx="426.0" cy="1133.4" r="2.45"/><circle cx="424.6" cy="1145.5" r="2.45"/><circle cx="436.4" cy="1128.3" r="2.45"/><circle cx="436.4" cy="1130.3" r="2.45"/><circle cx="435.9" cy="1156.7" r="2.45"/><circle cx="437.2" cy="1161.5" r="2.45"/><circle cx="433.8" cy="1162.8" r="2.45"/><circle cx="437.4" cy="1165.9" r="2.45"/><circle cx="406.2" cy="1163.0" r="2.45"/><circle cx="417.0" cy="1162.0" r="2.45"/><circle cx="464.1" cy="1143.8" r="2.45"/><circle cx="448.3" cy="1158.7" r="2.45"/><circle cx="447.8" cy="1162.2" r="2.45"/><circle cx="459.5" cy="1157.9" r="2.45"/><circle cx="458.0" cy="1160.0" r="2.45"/><circle cx="461.1" cy="1159.1" r="2.45"/><circle cx="456.7" cy="1165.3" r="2.45"/><circle cx="472.8" cy="1160.0" r="2.45"/><circle cx="472.8" cy="1163.2" r="2.45"/><circle cx="483.8" cy="1156.7" r="2.45"/><circle cx="483.0" cy="1162.5" r="2.45"/></g>
<rect x="372.1" y="1026.0" width="132.30" height="177.80" fill="none" stroke="#1a1a1a" stroke-width="1"/>
<path d="M368.10 1203.80H372.1M368.70 1186.02H372.1M368.10 1168.24H372.1M368.70 1150.46H372.1M368.10 1132.68H372.1M368.70 1114.90H372.1M368.10 1097.12H372.1M368.70 1079.34H372.1M368.10 1061.56H372.1M368.70 1043.78H372.1M368.10 1026.00H372.1M372.10 1203.8V1207.30M409.90 1203.8V1207.30M447.70 1203.8V1207.30M485.50 1203.8V1207.30" stroke="#1a1a1a" stroke-width="1" fill="none"/>
<text x="361.10" y="1207.70" font-size="12.3" text-anchor="end">0.0</text>
<text x="361.10" y="1172.14" font-size="12.3" text-anchor="end">1.0</text>
<text x="361.10" y="1136.58" font-size="12.3" text-anchor="end">2.0</text>
<text x="361.10" y="1101.02" font-size="12.3" text-anchor="end">3.0</text>
<text x="361.10" y="1065.46" font-size="12.3" text-anchor="end">4.0</text>
<text x="361.10" y="1029.90" font-size="12.3" text-anchor="end">5.0</text>
<text x="372.10" y="1222.20" font-size="12.3" text-anchor="middle">1</text>
<text x="409.90" y="1222.20" font-size="12.3" text-anchor="middle">3</text>
<text x="447.70" y="1222.20" font-size="12.3" text-anchor="middle">5</text>
<text x="485.50" y="1222.20" font-size="12.3" text-anchor="middle">7</text>
<line x1="539.4" y1="1168.50" x2="671.4" y2="1168.50" stroke="#1a1a1a" stroke-width="1.0" stroke-dasharray="3.5,2.6"/>
<g fill="#d4d4d4" stroke="#1a1a1a" stroke-width="1.0"><circle cx="545.0" cy="1152.0" r="2.45"/><circle cx="551.0" cy="1154.0" r="2.45"/><circle cx="557.0" cy="1158.0" r="2.45"/><circle cx="546.0" cy="1158.0" r="2.45"/><circle cx="552.0" cy="1160.0" r="2.45"/><circle cx="558.0" cy="1164.0" r="2.45"/><circle cx="543.0" cy="1166.0" r="2.45"/><circle cx="550.0" cy="1170.0" r="2.45"/><circle cx="556.0" cy="1167.0" r="2.45"/><circle cx="561.0" cy="1154.0" r="2.45"/><circle cx="546.0" cy="1171.0" r="2.45"/><circle cx="578.9" cy="1129.5" r="2.45"/><circle cx="593.7" cy="1127.8" r="2.45"/><circle cx="597.8" cy="1127.8" r="2.45"/><circle cx="563.4" cy="1143.1" r="2.45"/><circle cx="562.0" cy="1145.1" r="2.45"/><circle cx="554.2" cy="1147.9" r="2.45"/><circle cx="544.7" cy="1153.0" r="2.45"/><circle cx="543.1" cy="1156.7" r="2.45"/><circle cx="549.1" cy="1156.4" r="2.45"/><circle cx="554.9" cy="1153.3" r="2.45"/><circle cx="556.9" cy="1154.0" r="2.45"/><circle cx="554.9" cy="1157.4" r="2.45"/><circle cx="560.7" cy="1157.9" r="2.45"/><circle cx="549.1" cy="1162.5" r="2.45"/><circle cx="554.9" cy="1162.2" r="2.45"/><circle cx="541.6" cy="1160.5" r="2.45"/><circle cx="545.2" cy="1166.9" r="2.45"/><circle cx="549.1" cy="1166.6" r="2.45"/><circle cx="562.5" cy="1161.5" r="2.45"/><circle cx="565.1" cy="1159.1" r="2.45"/><circle cx="567.9" cy="1155.7" r="2.45"/><circle cx="574.6" cy="1153.3" r="2.45"/><circle cx="574.0" cy="1160.0" r="2.45"/><circle cx="571.9" cy="1165.3" r="2.45"/><circle cx="546.2" cy="1173.8" r="2.45"/><circle cx="549.1" cy="1174.8" r="2.45"/><circle cx="552.3" cy="1176.1" r="2.45"/><circle cx="555.2" cy="1173.5" r="2.45"/><circle cx="558.7" cy="1171.2" r="2.45"/><circle cx="593.7" cy="1144.6" r="2.45"/><circle cx="601.2" cy="1144.8" r="2.45"/><circle cx="594.4" cy="1148.7" r="2.45"/><circle cx="594.7" cy="1151.0" r="2.45"/><circle cx="590.6" cy="1154.0" r="2.45"/><circle cx="587.6" cy="1156.9" r="2.45"/><circle cx="599.5" cy="1157.7" r="2.45"/><circle cx="601.6" cy="1158.7" r="2.45"/><circle cx="587.6" cy="1172.4" r="2.45"/><circle cx="544.2" cy="1163.0" r="2.45"/><circle cx="552.3" cy="1170.2" r="2.45"/><circle cx="608.0" cy="1131.4" r="2.45"/><circle cx="608.0" cy="1134.9" r="2.45"/><circle cx="615.3" cy="1132.6" r="2.45"/><circle cx="608.0" cy="1166.6" r="2.45"/><circle cx="608.0" cy="1174.8" r="2.45"/><circle cx="622.0" cy="1169.7" r="2.45"/><circle cx="636.0" cy="1136.7" r="2.45"/><circle cx="631.2" cy="1141.4" r="2.45"/><circle cx="628.6" cy="1144.6" r="2.45"/><circle cx="629.8" cy="1147.2" r="2.45"/><circle cx="637.8" cy="1147.5" r="2.45"/><circle cx="637.6" cy="1153.0" r="2.45"/><circle cx="639.6" cy="1154.9" r="2.45"/><circle cx="646.0" cy="1153.3" r="2.45"/><circle cx="644.1" cy="1155.7" r="2.45"/><circle cx="638.6" cy="1160.0" r="2.45"/><circle cx="635.8" cy="1162.8" r="2.45"/><circle cx="654.2" cy="1147.7" r="2.45"/><circle cx="654.2" cy="1155.9" r="2.45"/></g>
<rect x="539.4" y="1024.6" width="132.00" height="179.40" fill="none" stroke="#1a1a1a" stroke-width="1"/>
<path d="M535.40 1204.00H539.4M536.00 1186.06H539.4M535.40 1168.12H539.4M536.00 1150.18H539.4M535.40 1132.24H539.4M536.00 1114.30H539.4M535.40 1096.36H539.4M536.00 1078.42H539.4M535.40 1060.48H539.4M536.00 1042.54H539.4M535.40 1024.60H539.4M539.40 1204.0V1207.50M572.40 1204.0V1207.50M605.40 1204.0V1207.50M638.40 1204.0V1207.50M671.40 1204.0V1207.50" stroke="#1a1a1a" stroke-width="1" fill="none"/>
<text x="528.40" y="1207.90" font-size="12.3" text-anchor="end">0.0</text>
<text x="528.40" y="1172.02" font-size="12.3" text-anchor="end">1.0</text>
<text x="528.40" y="1136.14" font-size="12.3" text-anchor="end">2.0</text>
<text x="528.40" y="1100.26" font-size="12.3" text-anchor="end">3.0</text>
<text x="528.40" y="1064.38" font-size="12.3" text-anchor="end">4.0</text>
<text x="528.40" y="1028.50" font-size="12.3" text-anchor="end">5.0</text>
<text x="539.40" y="1222.40" font-size="12.3" text-anchor="middle">0</text>
<text x="572.40" y="1222.40" font-size="12.3" text-anchor="middle">0.01</text>
<text x="605.40" y="1222.40" font-size="12.3" text-anchor="middle">0.02</text>
<text x="638.40" y="1222.40" font-size="12.3" text-anchor="middle">0.03</text>
<text x="671.40" y="1222.40" font-size="12.3" text-anchor="middle">0.04</text>
<text x="82.60" y="1241.70" font-size="14" ><tspan font-style="italic">f</tspan><tspan font-style="italic" dx="3.3">’</tspan><tspan font-style="italic" font-size="10" dx="-1.8" dy="2.7">c</tspan><tspan dy="-2.7" dx="0.7"> (MPa)</tspan></text>
<text x="257.20" y="1239.70" font-size="14"><tspan font-style="italic">d</tspan> (mm)</text>
<text x="435.00" y="1240.00" font-size="14" font-style="italic">a/d</text>
<text x="605.40" y="1239.60" font-size="14" font-style="italic">ρ<tspan font-size="9" dy="1.6" dx="0.6">v</tspan></text>
<text x="354.3" y="1260.70" font-size="15.9" text-anchor="middle">(e) Marí et al. (2016)</text>
<text transform="translate(10,1117.5) rotate(-90)" font-size="15" text-anchor="middle" font-style="italic">V<tspan font-size="9" dy="2.6">test</tspan><tspan dy="-2.6">/V</tspan><tspan font-size="9" dy="2.6">predict</tspan></text>
<g fill="#0000ff" style="color:#0000ff" font-size="11.8">
<text x="51.0" y="1040.60">Mean = 1.275</text>
<text x="51.0" y="1054.60">COV = 0.21</text>
<text x="51.0" y="1068.30">Max = 2.12</text>
<text x="51.0" y="1082.60" xml:space="preserve">Min =  0.79</text>
<text x="597.50" y="1043.00">P<tspan font-size="8.4" dy="2.6">0.05</tspan><tspan dy="-2.6" dx="1.2">= 0.90</tspan></text>
<text x="597.50" y="1056.60">AAE = 0.21</text>
<text x="597.50" y="1070.00">&lt; 0.75 = 0%</text>
</g>
<g font-size="12.3">
<text x="145" y="1236.5">fc' (MPa)</text>
<text x="336.5" y="1236.3">d</text>
<text x="492.3" y="1236">a/d</text>
<text x="655.8" y="1235">rho_v</text>
</g>
</svg></body></html>
